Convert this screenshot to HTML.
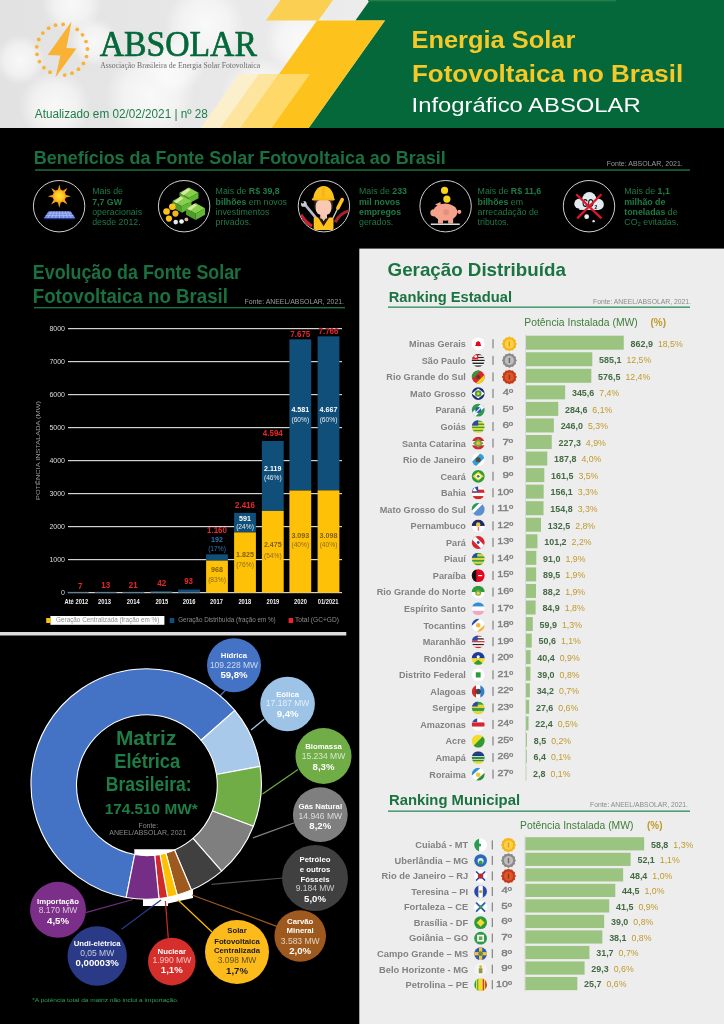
<!DOCTYPE html>
<html lang="pt-BR"><head><meta charset="utf-8"><title>Energia Solar Fotovoltaica no Brasil - Infográfico ABSOLAR</title>
<style>
html,body{margin:0;padding:0;background:#000;}
body{width:724px;height:1024px;overflow:hidden;font-family:"Liberation Sans",sans-serif;}
svg{display:block}
text{white-space:pre}
</style></head><body>
<svg width="724" height="1024" viewBox="0 0 724 1024">
<rect x="0" y="0" width="724" height="1024" fill="#000"/>
<g id="header">
<defs>
<radialGradient id="bk1"><stop offset="0" stop-color="#fff" stop-opacity=".75"/><stop offset=".6" stop-color="#fff" stop-opacity=".5"/><stop offset="1" stop-color="#fff" stop-opacity="0"/></radialGradient>
<linearGradient id="hbg" x1="0" y1="0" x2="1" y2="0"><stop offset="0" stop-color="#e2e2e2"/><stop offset=".5" stop-color="#ececec"/><stop offset="1" stop-color="#e6e6e6"/></linearGradient>
</defs>
<rect x="0" y="0" width="724" height="128" fill="url(#hbg)"/>
<clipPath id="hc"><rect x="0" y="0" width="724" height="128"/></clipPath><g clip-path="url(#hc)">
<circle cx="72" cy="4" r="30" fill="url(#bk1)"/>
<circle cx="94" cy="42" r="24" fill="url(#bk1)"/>
<circle cx="55" cy="106" r="36" fill="url(#bk1)"/>
<circle cx="150" cy="95" r="45" fill="url(#bk1)"/>
<circle cx="205" cy="25" r="40" fill="url(#bk1)"/>
<circle cx="262" cy="100" r="42" fill="url(#bk1)"/>
<circle cx="175" cy="64" r="30" fill="url(#bk1)"/>
<circle cx="300" cy="40" r="35" fill="url(#bk1)"/>
<circle cx="20" cy="60" r="25" fill="url(#bk1)"/>
</g>
<polygon points="280.5,0 333,0 318.4,20.6 265.9,20.6" fill="#fbd052"/>
<polygon points="370,0 724,0 724,128 308.7,128 385,20.6 355.4,20.6" fill="#04683a"/>
<polygon points="317,20.6 385,20.6 308.7,128 240.7,128" fill="#fdc31c"/>
<polygon points="239,74 258.7,74 220.4,128 200.7,128" fill="#fbf0cb"/>
<polygon points="258.7,74 278.3,74 240.0,128 220.4,128" fill="#fde59f"/>
<polygon points="278.3,74 310,74 271.7,128 240.0,128" fill="#fed869"/>
<circle cx="63.11" cy="24.42" r="1.9" fill="#f9b233"/>
<circle cx="77.21" cy="29.46" r="1.9" fill="#f9b233"/>
<circle cx="82.53" cy="34.84" r="1.9" fill="#f9b233"/>
<circle cx="86.03" cy="41.56" r="1.9" fill="#f9b233"/>
<circle cx="87.39" cy="49.01" r="1.9" fill="#f9b233"/>
<circle cx="86.49" cy="56.53" r="1.9" fill="#f9b233"/>
<circle cx="83.42" cy="63.45" r="1.9" fill="#f9b233"/>
<circle cx="78.45" cy="69.16" r="1.9" fill="#f9b233"/>
<circle cx="72.01" cy="73.14" r="1.9" fill="#f9b233"/>
<circle cx="64.69" cy="75.06" r="1.9" fill="#f9b233"/>
<circle cx="49.99" cy="72.18" r="1.9" fill="#f9b233"/>
<circle cx="43.93" cy="67.65" r="1.9" fill="#f9b233"/>
<circle cx="39.47" cy="61.53" r="1.9" fill="#f9b233"/>
<circle cx="37.01" cy="54.37" r="1.9" fill="#f9b233"/>
<circle cx="36.78" cy="46.80" r="1.9" fill="#f9b233"/>
<circle cx="38.78" cy="39.50" r="1.9" fill="#f9b233"/>
<circle cx="42.85" cy="33.11" r="1.9" fill="#f9b233"/>
<circle cx="48.62" cy="28.21" r="1.9" fill="#f9b233"/>
<circle cx="55.58" cy="25.22" r="1.9" fill="#f9b233"/>
<rect x="368" y="0" width="248" height="1.4" fill="#237e47"/>
<polygon points="71.6,21.6 47.7,55.1 60.4,55.5 55.4,77.6 76.4,48.5 66.4,48.1" fill="#f9b233"/>
<text x="99.63" y="55.80" font-size="36.5" fill="#04683a" font-family='"Liberation Serif",serif' textLength="157.29" lengthAdjust="spacingAndGlyphs" stroke="#04683a" stroke-width=".7">ABSOLAR</text>
<text x="100.16" y="68.20" font-size="7.4" fill="#6d6d6d" font-family='"Liberation Serif",serif' textLength="159.92" lengthAdjust="spacingAndGlyphs">Associação Brasileira de Energia Solar Fotovoltaica</text>
<text x="34.80" y="118.10" font-size="12" fill="#1f7d48" font-family='"Liberation Sans",sans-serif' textLength="173.09" lengthAdjust="spacingAndGlyphs">Atualizado em 02/02/2021 | nº 28</text>
<text x="411.45" y="48.00" font-size="24.3" fill="#f7c928" font-weight="bold" font-family='"Liberation Sans",sans-serif' textLength="163.96" lengthAdjust="spacingAndGlyphs">Energia Solar</text>
<text x="412.01" y="82.40" font-size="24.3" fill="#f7c928" font-weight="bold" font-family='"Liberation Sans",sans-serif' textLength="271.21" lengthAdjust="spacingAndGlyphs">Fotovoltaica no Brasil</text>
<text x="411.56" y="112.00" font-size="19.8" fill="#ffffff" font-family='"Liberation Sans",sans-serif' textLength="229.13" lengthAdjust="spacingAndGlyphs">Infográfico ABSOLAR</text>
</g>
<g id="benefits">
<text x="33.83" y="164.10" font-size="19" fill="#1b7040" font-weight="bold" font-family='"Liberation Sans",sans-serif' textLength="411.83" lengthAdjust="spacingAndGlyphs">Benefícios da Fonte Solar Fotovoltaica ao Brasil</text>
<rect x="35" y="169.3" width="655" height="1.5" fill="#1b7040"/>
<text x="606.80" y="165.80" font-size="6.5" fill="#9a9a9a" font-family='"Liberation Sans",sans-serif' textLength="76.00" lengthAdjust="spacingAndGlyphs">Fonte: ABSOLAR, 2021.</text>
<text x="92.20" y="194.10" font-size="8.8" fill="#1f7a45" font-family='"Liberation Sans",sans-serif' textLength="30.81" lengthAdjust="spacingAndGlyphs">Mais de</text>
<text x="92.20" y="204.55" font-size="8.8" fill="#1f7a45" font-weight="bold" font-family='"Liberation Sans",sans-serif' textLength="29.83" lengthAdjust="spacingAndGlyphs">7,7 GW</text>
<text x="92.20" y="215.00" font-size="8.8" fill="#1f7a45" font-family='"Liberation Sans",sans-serif' textLength="49.90" lengthAdjust="spacingAndGlyphs">operacionais</text>
<text x="92.20" y="225.45" font-size="8.8" fill="#1f7a45" font-family='"Liberation Sans",sans-serif' textLength="48.44" lengthAdjust="spacingAndGlyphs">desde 2012.</text>
<text x="215.60" y="194.10" font-size="8.8" fill="#1f7a45" font-family='"Liberation Sans",sans-serif' textLength="30.81" lengthAdjust="spacingAndGlyphs">Mais de</text>
<text x="248.86" y="194.10" font-size="8.8" fill="#1f7a45" font-weight="bold" font-family='"Liberation Sans",sans-serif' textLength="30.82" lengthAdjust="spacingAndGlyphs">R$ 39,8</text>
<text x="215.60" y="204.55" font-size="8.8" fill="#1f7a45" font-weight="bold" font-family='"Liberation Sans",sans-serif' textLength="30.80" lengthAdjust="spacingAndGlyphs">bilhões</text>
<text x="248.85" y="204.55" font-size="8.8" fill="#1f7a45" font-family='"Liberation Sans",sans-serif' textLength="38.15" lengthAdjust="spacingAndGlyphs">em novos</text>
<text x="215.60" y="215.00" font-size="8.8" fill="#1f7a45" font-family='"Liberation Sans",sans-serif' textLength="53.80" lengthAdjust="spacingAndGlyphs">investimentos</text>
<text x="215.60" y="225.45" font-size="8.8" fill="#1f7a45" font-family='"Liberation Sans",sans-serif' textLength="35.71" lengthAdjust="spacingAndGlyphs">privados.</text>
<text x="359.00" y="194.10" font-size="8.8" fill="#1f7a45" font-family='"Liberation Sans",sans-serif' textLength="30.81" lengthAdjust="spacingAndGlyphs">Mais de</text>
<text x="392.26" y="194.10" font-size="8.8" fill="#1f7a45" font-weight="bold" font-family='"Liberation Sans",sans-serif' textLength="14.68" lengthAdjust="spacingAndGlyphs">233</text>
<text x="359.00" y="204.55" font-size="8.8" fill="#1f7a45" font-weight="bold" font-family='"Liberation Sans",sans-serif' textLength="41.07" lengthAdjust="spacingAndGlyphs">mil novos</text>
<text x="359.00" y="215.00" font-size="8.8" fill="#1f7a45" font-weight="bold" font-family='"Liberation Sans",sans-serif' textLength="42.06" lengthAdjust="spacingAndGlyphs">empregos</text>
<text x="359.00" y="225.45" font-size="8.8" fill="#1f7a45" font-family='"Liberation Sans",sans-serif' textLength="34.25" lengthAdjust="spacingAndGlyphs">gerados.</text>
<text x="477.60" y="194.10" font-size="8.8" fill="#1f7a45" font-family='"Liberation Sans",sans-serif' textLength="30.81" lengthAdjust="spacingAndGlyphs">Mais de</text>
<text x="510.86" y="194.10" font-size="8.8" fill="#1f7a45" font-weight="bold" font-family='"Liberation Sans",sans-serif' textLength="30.34" lengthAdjust="spacingAndGlyphs">R$ 11,6</text>
<text x="477.60" y="204.55" font-size="8.8" fill="#1f7a45" font-weight="bold" font-family='"Liberation Sans",sans-serif' textLength="30.80" lengthAdjust="spacingAndGlyphs">bilhões</text>
<text x="510.85" y="204.55" font-size="8.8" fill="#1f7a45" font-family='"Liberation Sans",sans-serif' textLength="12.23" lengthAdjust="spacingAndGlyphs">em</text>
<text x="477.60" y="215.00" font-size="8.8" fill="#1f7a45" font-family='"Liberation Sans",sans-serif' textLength="61.16" lengthAdjust="spacingAndGlyphs">arrecadação de</text>
<text x="477.60" y="225.45" font-size="8.8" fill="#1f7a45" font-family='"Liberation Sans",sans-serif' textLength="31.30" lengthAdjust="spacingAndGlyphs">tributos.</text>
<text x="624.30" y="194.10" font-size="8.8" fill="#1f7a45" font-family='"Liberation Sans",sans-serif' textLength="30.81" lengthAdjust="spacingAndGlyphs">Mais de</text>
<text x="657.56" y="194.10" font-size="8.8" fill="#1f7a45" font-weight="bold" font-family='"Liberation Sans",sans-serif' textLength="12.23" lengthAdjust="spacingAndGlyphs">1,1</text>
<text x="624.30" y="204.55" font-size="8.8" fill="#1f7a45" font-weight="bold" font-family='"Liberation Sans",sans-serif' textLength="41.07" lengthAdjust="spacingAndGlyphs">milhão de</text>
<text x="624.30" y="215.00" font-size="8.8" fill="#1f7a45" font-weight="bold" font-family='"Liberation Sans",sans-serif' textLength="41.08" lengthAdjust="spacingAndGlyphs">toneladas</text>
<text x="667.82" y="215.00" font-size="8.8" fill="#1f7a45" font-family='"Liberation Sans",sans-serif' textLength="9.79" lengthAdjust="spacingAndGlyphs">de</text>
<text x="624.30" y="225.45" font-size="8.8" fill="#1f7a45" font-family='"Liberation Sans",sans-serif' textLength="54.28" lengthAdjust="spacingAndGlyphs">CO₂ evitadas.</text>
<circle cx="59.1" cy="206.2" r="25.7" fill="#000" stroke="#cfcfcf" stroke-width="1"/>
<circle cx="184.1" cy="206.2" r="25.7" fill="#000" stroke="#cfcfcf" stroke-width="1"/>
<circle cx="323.9" cy="206.2" r="25.7" fill="#000" stroke="#cfcfcf" stroke-width="1"/>
<circle cx="445.6" cy="206.2" r="25.7" fill="#000" stroke="#cfcfcf" stroke-width="1"/>
<circle cx="589.0" cy="206.2" r="25.7" fill="#000" stroke="#cfcfcf" stroke-width="1"/>
<defs><radialGradient id="sun"><stop offset="0" stop-color="#ffe23a"/><stop offset=".7" stop-color="#fdc21c"/><stop offset="1" stop-color="#f7941d"/></radialGradient></defs>
<polygon points="57.75,190.40 59.30,184.60 60.85,190.40" fill="#f9a11b"/>
<polygon points="62.30,191.00 67.50,188.00 64.50,193.20" fill="#f9a11b"/>
<polygon points="65.10,194.65 70.90,196.20 65.10,197.75" fill="#f9a11b"/>
<polygon points="64.50,199.20 67.50,204.40 62.30,201.40" fill="#f9a11b"/>
<polygon points="60.85,202.00 59.30,207.80 57.75,202.00" fill="#f9a11b"/>
<polygon points="56.30,201.40 51.10,204.40 54.10,199.20" fill="#f9a11b"/>
<polygon points="53.50,197.75 47.70,196.20 53.50,194.65" fill="#f9a11b"/>
<polygon points="54.10,193.20 51.10,188.00 56.30,191.00" fill="#f9a11b"/>
<circle cx="59.3" cy="196.2" r="6.6" fill="url(#sun)"/>
<polygon points="48.7,211.2 70.5,211.2 75.3,218 43.9,218" fill="#6f8ae6"/>
<line x1="51.43" y1="211.2" x2="47.82" y2="218" stroke="#b8c8f5" stroke-width=".7"/>
<line x1="54.15" y1="211.2" x2="51.75" y2="218" stroke="#b8c8f5" stroke-width=".7"/>
<line x1="56.88" y1="211.2" x2="55.67" y2="218" stroke="#b8c8f5" stroke-width=".7"/>
<line x1="59.60" y1="211.2" x2="59.60" y2="218" stroke="#b8c8f5" stroke-width=".7"/>
<line x1="62.33" y1="211.2" x2="63.52" y2="218" stroke="#b8c8f5" stroke-width=".7"/>
<line x1="65.05" y1="211.2" x2="67.45" y2="218" stroke="#b8c8f5" stroke-width=".7"/>
<line x1="67.78" y1="211.2" x2="71.38" y2="218" stroke="#b8c8f5" stroke-width=".7"/>
<line x1="47.26" y1="213.2" x2="71.94" y2="213.2" stroke="#b8c8f5" stroke-width=".6"/>
<line x1="45.68" y1="215.5" x2="73.52" y2="215.5" stroke="#b8c8f5" stroke-width=".6"/>
<polygon points="43.9,218 75.3,218 74.5,219.2 44.7,219.2" fill="#2a3f9a"/>
<polygon points="179.48,192.79 188.98,197.99 188.98,203.49 179.48,198.29" fill="#4f9a2a"/>
<polygon points="198.48,192.79 188.98,197.99 188.98,203.49 198.48,198.29" fill="#63b535"/>
<polygon points="188.98,187.59 198.48,192.79 188.98,197.99 179.48,192.79" fill="#86cf4a"/>
<polygon points="187.55,188.37 190.40,189.93 183.75,195.13 180.90,193.57" fill="#d9e8a6"/>
<polygon points="172.51,201.01 182.01,206.21 182.01,212.71 172.51,207.51" fill="#4f9a2a"/>
<polygon points="191.51,201.01 182.01,206.21 182.01,212.71 191.51,207.51" fill="#63b535"/>
<polygon points="182.01,195.81 191.51,201.01 182.01,206.21 172.51,201.01" fill="#86cf4a"/>
<polygon points="180.59,196.59 183.44,198.15 176.79,203.35 173.94,201.79" fill="#d9e8a6"/>
<polygon points="186.05,208.27 195.55,213.47 195.55,219.97 186.05,214.77" fill="#4f9a2a"/>
<polygon points="205.05,208.27 195.55,213.47 195.55,219.97 205.05,214.77" fill="#63b535"/>
<polygon points="195.55,203.07 205.05,208.27 195.55,213.47 186.05,208.27" fill="#86cf4a"/>
<polygon points="194.13,203.85 196.98,205.41 190.33,210.61 187.48,209.05" fill="#d9e8a6"/>
<circle cx="172.34" cy="206.82" r="3.29" fill="#fdc31c"/>
<circle cx="166.54" cy="211.46" r="3.29" fill="#fdc31c"/>
<circle cx="175.44" cy="213.59" r="3.09" fill="#f9b21a"/>
<circle cx="168.96" cy="218.62" r="3.09" fill="#fdc31c"/>
<circle cx="175.73" cy="222.10" r="2.32" fill="#e8e8e8"/>
<circle cx="181.53" cy="221.52" r="2.32" fill="#f4f4f4"/>
<circle cx="186.37" cy="219.39" r="1.93" fill="#e0b49a"/>
<clipPath id="c3"><circle cx="323.9" cy="206.2" r="25.2"/></clipPath><g clip-path="url(#c3)">
<path d="M300.9,214.6 Q305.2,222.3 312.0,226.2" stroke="#c8202c" stroke-width="3.2" fill="none"/>
<path d="M349.7,210.7 Q340.1,212.6 335.2,222.3" stroke="#a8202c" stroke-width="3.2" fill="none"/>
<line x1="304.8" y1="204.4" x2="316.4" y2="218.4" stroke="#b9bcc4" stroke-width="2.6" stroke-linecap="round"/>
<circle cx="303.8" cy="203.9" r="2.9" fill="#c9ccd3"/><circle cx="302.6" cy="202.3" r="1.3" fill="#000"/>
<line x1="337.9" y1="208.0" x2="333.1" y2="217.9" stroke="#c9ccd3" stroke-width="1.3"/>
<line x1="342.2" y1="199.6" x2="337.9" y2="208.0" stroke="#fdc31c" stroke-width="3.6" stroke-linecap="round"/>
<polygon points="313.75,217.45 333.48,217.45 333.48,230.03 313.75,230.03" fill="#fdc31c"/>
<polygon points="317.82,216.97 329.42,216.97 323.62,226.16" fill="#2a1a16"/>
<polygon points="320.91,216.97 326.33,216.97 323.62,221.32" fill="#f6c7b4"/>
<polygon points="320.23,213.59 327.00,213.59 327.00,218.42 320.23,218.42" fill="#f6c7b4"/>
<polygon points="314.43,200.05 332.81,200.05 332.81,208.75 314.43,208.75" fill="#3a2420"/>
<rect x="315.7" y="199.6" width="15.7" height="15.5" rx="6" fill="#f9c9b6"/>
<path d="M313.2,199.6 A10.4,13.5 0 0 1 334.1,199.6 Z" fill="#fdc31c"/>
<rect x="312.0" y="197.9" width="22.7" height="2.6" rx="1.3" fill="#f7b818"/>
<rect x="321.7" y="186.5" width="3" height="11" rx="1.2" fill="#f9b21a"/>
</g>
<circle cx="444.56" cy="190.38" r="3.6" fill="#f7d417"/>
<circle cx="446.88" cy="199.08" r="3.6" fill="#f7d417"/>
<ellipse cx="445.23" cy="212.14" rx="12" ry="8.6" fill="#f4a28c"/>
<circle cx="433.92" cy="212.81" r="3.6" fill="#f4a28c"/>
<polygon points="435.08,204.40 440.40,201.98 441.37,207.78" fill="#f4a28c"/>
<circle cx="459.26" cy="211.85" r="2.1" fill="#f4a28c"/>
<rect x="437.98" y="217.45" width="5" height="6" fill="#f4a28c"/>
<rect x="448.14" y="217.45" width="5" height="6" fill="#f4a28c"/>
<circle cx="446.20" cy="212.14" r="3" fill="#e58f80"/>
<rect x="430.73" y="223.55" width="29" height="1.3" fill="#fff"/>
<circle cx="579.31" cy="203.72" r="5.03" fill="#e3ebf1"/>
<circle cx="589.27" cy="199.08" r="6.96" fill="#e3ebf1"/>
<circle cx="598.26" cy="204.40" r="5.61" fill="#e3ebf1"/>
<rect x="579.31" y="203.91" width="18.96" height="6.00" fill="#e3ebf1"/>
<circle cx="586.66" cy="216.68" r="2.4" fill="#e3ebf1"/>
<circle cx="593.62" cy="221.13" r="1.2" fill="#e3ebf1"/>
<text x="582.18" y="207.01" font-size="10" fill="#111" font-weight="bold" font-family='"Liberation Sans",sans-serif' textLength="11.70" lengthAdjust="spacingAndGlyphs">CO</text>
<text x="594.43" y="208.61" font-size="5.6" fill="#111" font-weight="bold" font-family='"Liberation Sans",sans-serif' textLength="2.80" lengthAdjust="spacingAndGlyphs">2</text>
<line x1="576.2" y1="194.2" x2="601.4" y2="218.4" stroke="#e0162b" stroke-width="2.2"/>
<line x1="601.4" y1="194.2" x2="577.2" y2="218.4" stroke="#e0162b" stroke-width="2.2"/>
</g>
<g id="evolucao">
<text x="32.84" y="279.00" font-size="19.5" fill="#1b7040" font-weight="bold" font-family='"Liberation Sans",sans-serif' textLength="208.21" lengthAdjust="spacingAndGlyphs">Evolução da Fonte Solar</text>
<text x="32.79" y="302.60" font-size="19.5" fill="#1b7040" font-weight="bold" font-family='"Liberation Sans",sans-serif' textLength="195.16" lengthAdjust="spacingAndGlyphs">Fotovoltaica no Brasil</text>
<rect x="34" y="307" width="311" height="1.4" fill="#1b7040"/>
<text x="244.50" y="304.20" font-size="6.5" fill="#9a9a9a" font-family='"Liberation Sans",sans-serif' textLength="99.50" lengthAdjust="spacingAndGlyphs">Fonte: ANEEL/ABSOLAR, 2021.</text>
<rect x="68" y="592.00" width="274" height="1.2" fill="#d2d2d2"/>
<text x="61.10" y="595.00" font-size="6.8" fill="#dcdcdc" font-family='"Liberation Sans",sans-serif' textLength="3.90" lengthAdjust="spacingAndGlyphs">0</text>
<rect x="68" y="559.00" width="274" height="1.2" fill="#d2d2d2"/>
<text x="49.42" y="562.00" font-size="6.8" fill="#dcdcdc" font-family='"Liberation Sans",sans-serif' textLength="15.58" lengthAdjust="spacingAndGlyphs">1000</text>
<rect x="68" y="526.00" width="274" height="1.2" fill="#d2d2d2"/>
<text x="49.42" y="529.00" font-size="6.8" fill="#dcdcdc" font-family='"Liberation Sans",sans-serif' textLength="15.58" lengthAdjust="spacingAndGlyphs">2000</text>
<rect x="68" y="493.00" width="274" height="1.2" fill="#d2d2d2"/>
<text x="49.42" y="496.00" font-size="6.8" fill="#dcdcdc" font-family='"Liberation Sans",sans-serif' textLength="15.58" lengthAdjust="spacingAndGlyphs">3000</text>
<rect x="68" y="460.00" width="274" height="1.2" fill="#d2d2d2"/>
<text x="49.42" y="463.00" font-size="6.8" fill="#dcdcdc" font-family='"Liberation Sans",sans-serif' textLength="15.58" lengthAdjust="spacingAndGlyphs">4000</text>
<rect x="68" y="427.00" width="274" height="1.2" fill="#d2d2d2"/>
<text x="49.42" y="430.00" font-size="6.8" fill="#dcdcdc" font-family='"Liberation Sans",sans-serif' textLength="15.58" lengthAdjust="spacingAndGlyphs">5000</text>
<rect x="68" y="394.00" width="274" height="1.2" fill="#d2d2d2"/>
<text x="49.42" y="397.00" font-size="6.8" fill="#dcdcdc" font-family='"Liberation Sans",sans-serif' textLength="15.58" lengthAdjust="spacingAndGlyphs">6000</text>
<rect x="68" y="361.00" width="274" height="1.2" fill="#d2d2d2"/>
<text x="49.42" y="364.00" font-size="6.8" fill="#dcdcdc" font-family='"Liberation Sans",sans-serif' textLength="15.58" lengthAdjust="spacingAndGlyphs">7000</text>
<rect x="68" y="328.00" width="274" height="1.2" fill="#d2d2d2"/>
<text x="49.42" y="331.00" font-size="6.8" fill="#dcdcdc" font-family='"Liberation Sans",sans-serif' textLength="15.58" lengthAdjust="spacingAndGlyphs">8000</text>
<text transform="translate(40.2,500) rotate(-90)" font-size="6" fill="#9a9a9a" font-family='"Liberation Sans",sans-serif' textLength="99" lengthAdjust="spacingAndGlyphs">POTÊNCIA INSTALADA (MW)</text>
<rect x="66.80" y="591.80" width="21.8" height="0.80" fill="#0f4f7a"/>
<text x="64.55" y="604.00" font-size="6.4" fill="#f0f0f0" font-weight="bold" font-family='"Liberation Sans",sans-serif' textLength="23.70" lengthAdjust="spacingAndGlyphs">Até 2012</text>
<rect x="94.70" y="591.80" width="21.8" height="0.80" fill="#0f4f7a"/>
<text x="98.09" y="604.00" font-size="6.4" fill="#f0f0f0" font-weight="bold" font-family='"Liberation Sans",sans-serif' textLength="12.81" lengthAdjust="spacingAndGlyphs">2013</text>
<rect x="122.50" y="591.80" width="21.8" height="0.80" fill="#0f4f7a"/>
<text x="126.79" y="604.00" font-size="6.4" fill="#f0f0f0" font-weight="bold" font-family='"Liberation Sans",sans-serif' textLength="12.81" lengthAdjust="spacingAndGlyphs">2014</text>
<rect x="150.40" y="591.21" width="21.8" height="1.39" fill="#0f4f7a"/>
<text x="155.39" y="604.00" font-size="6.4" fill="#f0f0f0" font-weight="bold" font-family='"Liberation Sans",sans-serif' textLength="12.81" lengthAdjust="spacingAndGlyphs">2015</text>
<rect x="178.20" y="589.53" width="21.8" height="3.07" fill="#0f4f7a"/>
<text x="182.69" y="604.00" font-size="6.4" fill="#f0f0f0" font-weight="bold" font-family='"Liberation Sans",sans-serif' textLength="12.81" lengthAdjust="spacingAndGlyphs">2016</text>
<rect x="206.10" y="554.32" width="21.8" height="6.34" fill="#0f4f7a"/>
<rect x="206.10" y="560.66" width="21.8" height="31.94" fill="#ffc107"/>
<text x="210.09" y="604.00" font-size="6.4" fill="#f0f0f0" font-weight="bold" font-family='"Liberation Sans",sans-serif' textLength="12.81" lengthAdjust="spacingAndGlyphs">2017</text>
<rect x="234.10" y="512.87" width="21.8" height="19.50" fill="#0f4f7a"/>
<rect x="234.10" y="532.38" width="21.8" height="60.23" fill="#ffc107"/>
<text x="238.39" y="604.00" font-size="6.4" fill="#f0f0f0" font-weight="bold" font-family='"Liberation Sans",sans-serif' textLength="12.81" lengthAdjust="spacingAndGlyphs">2018</text>
<rect x="261.90" y="441.00" width="21.8" height="69.93" fill="#0f4f7a"/>
<rect x="261.90" y="510.93" width="21.8" height="81.67" fill="#ffc107"/>
<text x="266.49" y="604.00" font-size="6.4" fill="#f0f0f0" font-weight="bold" font-family='"Liberation Sans",sans-serif' textLength="12.81" lengthAdjust="spacingAndGlyphs">2019</text>
<rect x="289.40" y="339.33" width="21.8" height="151.21" fill="#0f4f7a"/>
<rect x="289.40" y="490.53" width="21.8" height="102.07" fill="#ffc107"/>
<text x="294.09" y="604.00" font-size="6.4" fill="#f0f0f0" font-weight="bold" font-family='"Liberation Sans",sans-serif' textLength="12.81" lengthAdjust="spacingAndGlyphs">2020</text>
<rect x="317.60" y="336.32" width="21.8" height="154.04" fill="#0f4f7a"/>
<rect x="317.60" y="490.37" width="21.8" height="102.23" fill="#ffc107"/>
<text x="317.69" y="604.00" font-size="6.4" fill="#f0f0f0" font-weight="bold" font-family='"Liberation Sans",sans-serif' textLength="20.82" lengthAdjust="spacingAndGlyphs">01/2021</text>
<text x="77.98" y="588.60" font-size="8.3" fill="#e8262b" font-weight="bold" font-family='"Liberation Sans",sans-serif' textLength="4.43" lengthAdjust="spacingAndGlyphs">7</text>
<text x="101.37" y="588.00" font-size="8.3" fill="#e8262b" font-weight="bold" font-family='"Liberation Sans",sans-serif' textLength="8.86" lengthAdjust="spacingAndGlyphs">13</text>
<text x="128.77" y="588.00" font-size="8.3" fill="#e8262b" font-weight="bold" font-family='"Liberation Sans",sans-serif' textLength="8.86" lengthAdjust="spacingAndGlyphs">21</text>
<text x="157.37" y="586.40" font-size="8.3" fill="#e8262b" font-weight="bold" font-family='"Liberation Sans",sans-serif' textLength="8.86" lengthAdjust="spacingAndGlyphs">42</text>
<text x="184.17" y="584.00" font-size="8.3" fill="#e8262b" font-weight="bold" font-family='"Liberation Sans",sans-serif' textLength="8.86" lengthAdjust="spacingAndGlyphs">93</text>
<text x="207.03" y="533.00" font-size="8.3" fill="#e8262b" font-weight="bold" font-family='"Liberation Sans",sans-serif' textLength="19.94" lengthAdjust="spacingAndGlyphs">1.160</text>
<text x="235.03" y="508.20" font-size="8.3" fill="#e8262b" font-weight="bold" font-family='"Liberation Sans",sans-serif' textLength="19.94" lengthAdjust="spacingAndGlyphs">2.416</text>
<text x="262.83" y="436.40" font-size="8.3" fill="#e8262b" font-weight="bold" font-family='"Liberation Sans",sans-serif' textLength="19.94" lengthAdjust="spacingAndGlyphs">4.594</text>
<text x="290.33" y="336.50" font-size="8.3" fill="#e8262b" font-weight="bold" font-family='"Liberation Sans",sans-serif' textLength="19.94" lengthAdjust="spacingAndGlyphs">7.675</text>
<text x="318.53" y="333.90" font-size="8.3" fill="#e8262b" font-weight="bold" font-family='"Liberation Sans",sans-serif' textLength="19.94" lengthAdjust="spacingAndGlyphs">7.766</text>
<text x="211.07" y="542.20" font-size="7.4" fill="#2e75b6" font-weight="bold" font-family='"Liberation Sans",sans-serif' textLength="11.85" lengthAdjust="spacingAndGlyphs">192</text>
<text x="208.13" y="551.00" font-size="7" fill="#2e75b6" font-family='"Liberation Sans",sans-serif' textLength="17.74" lengthAdjust="spacingAndGlyphs">(17%)</text>
<text x="239.07" y="520.80" font-size="7.4" fill="#ffffff" font-weight="bold" font-family='"Liberation Sans",sans-serif' textLength="11.85" lengthAdjust="spacingAndGlyphs">591</text>
<text x="236.13" y="529.00" font-size="7" fill="#e8e8e8" font-family='"Liberation Sans",sans-serif' textLength="17.74" lengthAdjust="spacingAndGlyphs">(24%)</text>
<text x="264.11" y="471.00" font-size="7.4" fill="#ffffff" font-weight="bold" font-family='"Liberation Sans",sans-serif' textLength="17.39" lengthAdjust="spacingAndGlyphs">2.119</text>
<text x="263.93" y="479.60" font-size="7" fill="#e8e8e8" font-family='"Liberation Sans",sans-serif' textLength="17.74" lengthAdjust="spacingAndGlyphs">(46%)</text>
<text x="291.41" y="412.00" font-size="7.4" fill="#ffffff" font-weight="bold" font-family='"Liberation Sans",sans-serif' textLength="17.78" lengthAdjust="spacingAndGlyphs">4.581</text>
<text x="291.43" y="422.30" font-size="7" fill="#e8e8e8" font-family='"Liberation Sans",sans-serif' textLength="17.74" lengthAdjust="spacingAndGlyphs">(60%)</text>
<text x="319.61" y="412.00" font-size="7.4" fill="#ffffff" font-weight="bold" font-family='"Liberation Sans",sans-serif' textLength="17.78" lengthAdjust="spacingAndGlyphs">4.667</text>
<text x="319.63" y="422.30" font-size="7" fill="#e8e8e8" font-family='"Liberation Sans",sans-serif' textLength="17.74" lengthAdjust="spacingAndGlyphs">(60%)</text>
<text x="211.07" y="571.60" font-size="7.4" fill="#7f6000" font-weight="bold" font-family='"Liberation Sans",sans-serif' textLength="11.85" lengthAdjust="spacingAndGlyphs">968</text>
<text x="208.13" y="582.00" font-size="7" fill="#8a6d1a" font-family='"Liberation Sans",sans-serif' textLength="17.74" lengthAdjust="spacingAndGlyphs">(83%)</text>
<text x="236.11" y="557.20" font-size="7.4" fill="#7f6000" font-weight="bold" font-family='"Liberation Sans",sans-serif' textLength="17.78" lengthAdjust="spacingAndGlyphs">1.825</text>
<text x="236.13" y="567.20" font-size="7" fill="#8a6d1a" font-family='"Liberation Sans",sans-serif' textLength="17.74" lengthAdjust="spacingAndGlyphs">(76%)</text>
<text x="263.91" y="547.30" font-size="7.4" fill="#7f6000" font-weight="bold" font-family='"Liberation Sans",sans-serif' textLength="17.78" lengthAdjust="spacingAndGlyphs">2.475</text>
<text x="263.93" y="558.30" font-size="7" fill="#8a6d1a" font-family='"Liberation Sans",sans-serif' textLength="17.74" lengthAdjust="spacingAndGlyphs">(54%)</text>
<text x="291.41" y="537.80" font-size="7.4" fill="#7f6000" font-weight="bold" font-family='"Liberation Sans",sans-serif' textLength="17.78" lengthAdjust="spacingAndGlyphs">3.093</text>
<text x="291.43" y="547.30" font-size="7" fill="#8a6d1a" font-family='"Liberation Sans",sans-serif' textLength="17.74" lengthAdjust="spacingAndGlyphs">(40%)</text>
<text x="319.61" y="537.80" font-size="7.4" fill="#7f6000" font-weight="bold" font-family='"Liberation Sans",sans-serif' textLength="17.78" lengthAdjust="spacingAndGlyphs">3.098</text>
<text x="319.63" y="547.30" font-size="7" fill="#8a6d1a" font-family='"Liberation Sans",sans-serif' textLength="17.74" lengthAdjust="spacingAndGlyphs">(40%)</text>
<rect x="50.4" y="616" width="114" height="8.8" fill="#fff"/>
<rect x="46.2" y="618" width="4.6" height="5" fill="#fdc010"/>
<text x="56.10" y="622.30" font-size="6.6" fill="#8c8c8c" font-family='"Liberation Sans",sans-serif' textLength="103.20" lengthAdjust="spacingAndGlyphs">Geração Centralizada (fração em %)</text>
<rect x="169.7" y="618" width="4.6" height="5" fill="#0f4f7a"/>
<text x="178.20" y="622.30" font-size="6.6" fill="#8c8c8c" font-family='"Liberation Sans",sans-serif' textLength="97.50" lengthAdjust="spacingAndGlyphs">Geração Distribuída (fração em %)</text>
<rect x="288.6" y="618" width="4.6" height="5" fill="#e8262b"/>
<text x="295.00" y="622.30" font-size="6.6" fill="#8c8c8c" font-family='"Liberation Sans",sans-serif' textLength="44.00" lengthAdjust="spacingAndGlyphs">Total (GC+GD)</text>
<rect x="0" y="632" width="346.3" height="3.5" fill="#dcdcdc"/>
</g>
<g id="matriz">
<polygon points="134.30,849.20 174.70,849.20 174.70,854.00 134.30,857.00" fill="#fff"/>
<polygon points="143.00,897.00 143.00,906.00 168.00,906.00 168.00,903.50 193.00,898.00 193.00,889.00 170.00,896.00" fill="#fff"/>
<line x1="226.5" y1="689" x2="219" y2="697" stroke="#4472c4" stroke-width="1.2"/>
<line x1="264.2" y1="719.2" x2="251.1" y2="730" stroke="#a9c9eb" stroke-width="1.2"/>
<line x1="298" y1="769.5" x2="262.5" y2="794" stroke="#70ad47" stroke-width="1.2"/>
<line x1="294.4" y1="822.8" x2="252.9" y2="837.9" stroke="#7f7f7f" stroke-width="1.2"/>
<line x1="283" y1="878" x2="211.4" y2="884.4" stroke="#505050" stroke-width="1.2"/>
<line x1="276.8" y1="926.4" x2="192" y2="895" stroke="#9e5a1e" stroke-width="1.2"/>
<line x1="212" y1="932" x2="178" y2="900" stroke="#ffc000" stroke-width="1.2"/>
<line x1="168.4" y1="940" x2="165.4" y2="901" stroke="#cf2a2a" stroke-width="1.2"/>
<line x1="121.5" y1="929.2" x2="161" y2="900" stroke="#2a3a86" stroke-width="1.2"/>
<line x1="85.6" y1="912.6" x2="133" y2="899.5" stroke="#762d86" stroke-width="1.2"/>
<path d="M126.20,897.45 A115.2,115.2 0 1 1 234.83,710.41 L201.07,740.23 A70.4,70.4 0 1 0 134.68,854.53 Z" fill="#4472c4" stroke="#fff" stroke-width="1.1" stroke-linejoin="round"/>
<path d="M234.83,710.41 A115.2,115.2 0 0 1 260.04,766.38 L216.47,774.43 A70.4,70.4 0 0 0 201.07,740.23 Z" fill="#a9c9eb" stroke="#fff" stroke-width="1.1" stroke-linejoin="round"/>
<path d="M260.04,766.38 A115.2,115.2 0 0 1 253.38,826.22 L212.40,811.00 A70.4,70.4 0 0 0 216.47,774.43 Z" fill="#70ad47" stroke="#fff" stroke-width="1.1" stroke-linejoin="round"/>
<path d="M253.38,826.22 A115.2,115.2 0 0 1 221.63,871.07 L192.99,838.41 A70.4,70.4 0 0 0 212.40,811.00 Z" fill="#7f7f7f" stroke="#fff" stroke-width="1.1" stroke-linejoin="round"/>
<path d="M221.63,871.07 A115.2,115.2 0 0 1 191.40,889.96 L174.52,849.96 A70.4,70.4 0 0 0 192.99,838.41 Z" fill="#404040" stroke="#fff" stroke-width="1.1" stroke-linejoin="round"/>
<path d="M191.40,889.96 A115.2,115.2 0 0 1 177.18,894.96 L165.83,853.01 A70.4,70.4 0 0 0 174.52,849.96 Z" fill="#9e5a1e" stroke="#fff" stroke-width="1.1" stroke-linejoin="round"/>
<path d="M177.18,894.96 A115.2,115.2 0 0 1 167.59,897.20 L159.97,854.38 A70.4,70.4 0 0 0 165.83,853.01 Z" fill="#ffc000" stroke="#fff" stroke-width="1.1" stroke-linejoin="round"/>
<path d="M167.59,897.20 A115.2,115.2 0 0 1 158.94,898.49 L154.69,855.17 A70.4,70.4 0 0 0 159.97,854.38 Z" fill="#cf2a2a" stroke="#fff" stroke-width="1.1" stroke-linejoin="round"/>
<path d="M158.94,898.49 A115.2,115.2 0 0 1 126.20,897.45 L134.68,854.53 A70.4,70.4 0 0 0 154.69,855.17 Z" fill="#762d86" stroke="#fff" stroke-width="1.1" stroke-linejoin="round"/>
<text x="115.94" y="744.80" font-size="19.3" fill="#1d7d45" font-weight="bold" font-family='"Liberation Sans",sans-serif' textLength="60.48" lengthAdjust="spacingAndGlyphs">Matriz</text>
<text x="114.32" y="768.00" font-size="19.3" fill="#1d7d45" font-weight="bold" font-family='"Liberation Sans",sans-serif' textLength="65.76" lengthAdjust="spacingAndGlyphs">Elétrica</text>
<text x="105.76" y="791.30" font-size="19.3" fill="#1d7d45" font-weight="bold" font-family='"Liberation Sans",sans-serif' textLength="85.85" lengthAdjust="spacingAndGlyphs">Brasileira:</text>
<text x="104.68" y="813.70" font-size="14.5" fill="#1d7d45" font-weight="bold" font-family='"Liberation Sans",sans-serif' textLength="93.00" lengthAdjust="spacingAndGlyphs">174.510 MW*</text>
<text x="138.45" y="828.10" font-size="6.8" fill="#8a8a8a" font-family='"Liberation Sans",sans-serif' textLength="19.70" lengthAdjust="spacingAndGlyphs">Fonte:</text>
<text x="109.30" y="834.90" font-size="6.8" fill="#8a8a8a" font-family='"Liberation Sans",sans-serif' textLength="77.00" lengthAdjust="spacingAndGlyphs">ANEEL/ABSOLAR, 2021</text>
<circle cx="234" cy="665.2" r="27" fill="#4472c4"/>
<text x="220.85" y="657.60" font-size="8.0" fill="#fff" font-weight="bold" font-family='"Liberation Sans",sans-serif' textLength="26.31" lengthAdjust="spacingAndGlyphs">Hídrica</text>
<g opacity=".72">
<text x="209.90" y="667.70" font-size="8.5" fill="#fff" font-family='"Liberation Sans",sans-serif' textLength="48.19" lengthAdjust="spacingAndGlyphs">109.228 MW</text>
</g>
<text x="220.39" y="678.20" font-size="9.6" fill="#fff" font-weight="bold" font-family='"Liberation Sans",sans-serif' textLength="27.22" lengthAdjust="spacingAndGlyphs">59,8%</text>
<circle cx="287.6" cy="704" r="27.3" fill="#9dc3e6"/>
<text x="276.17" y="696.60" font-size="8.0" fill="#fff" font-weight="bold" font-family='"Liberation Sans",sans-serif' textLength="22.86" lengthAdjust="spacingAndGlyphs">Eólica</text>
<g opacity=".72">
<text x="265.87" y="706.10" font-size="8.5" fill="#fff" font-family='"Liberation Sans",sans-serif' textLength="43.46" lengthAdjust="spacingAndGlyphs">17.187 MW</text>
</g>
<text x="276.66" y="716.70" font-size="9.6" fill="#fff" font-weight="bold" font-family='"Liberation Sans",sans-serif' textLength="21.88" lengthAdjust="spacingAndGlyphs">9,4%</text>
<circle cx="323.5" cy="756" r="28" fill="#70ad47"/>
<text x="305.17" y="748.60" font-size="8.0" fill="#fff" font-weight="bold" font-family='"Liberation Sans",sans-serif' textLength="36.66" lengthAdjust="spacingAndGlyphs">Biomassa</text>
<g opacity=".72">
<text x="301.77" y="758.90" font-size="8.5" fill="#fff" font-family='"Liberation Sans",sans-serif' textLength="43.46" lengthAdjust="spacingAndGlyphs">15.234 MW</text>
</g>
<text x="312.56" y="769.50" font-size="9.6" fill="#fff" font-weight="bold" font-family='"Liberation Sans",sans-serif' textLength="21.88" lengthAdjust="spacingAndGlyphs">8,3%</text>
<circle cx="320.3" cy="814.7" r="27.4" fill="#7f7f7f"/>
<text x="298.52" y="809.00" font-size="8.0" fill="#fff" font-weight="bold" font-family='"Liberation Sans",sans-serif' textLength="43.56" lengthAdjust="spacingAndGlyphs">Gás Natural</text>
<g opacity=".72">
<text x="298.57" y="819.00" font-size="8.5" fill="#fff" font-family='"Liberation Sans",sans-serif' textLength="43.46" lengthAdjust="spacingAndGlyphs">14.946 MW</text>
</g>
<text x="309.36" y="829.00" font-size="9.6" fill="#fff" font-weight="bold" font-family='"Liberation Sans",sans-serif' textLength="21.88" lengthAdjust="spacingAndGlyphs">8,2%</text>
<circle cx="315" cy="878" r="33" fill="#404040"/>
<text x="299.48" y="861.80" font-size="8.0" fill="#fff" font-weight="bold" font-family='"Liberation Sans",sans-serif' textLength="31.05" lengthAdjust="spacingAndGlyphs">Petróleo</text>
<text x="299.69" y="871.80" font-size="8.0" fill="#fff" font-weight="bold" font-family='"Liberation Sans",sans-serif' textLength="30.61" lengthAdjust="spacingAndGlyphs">e outros</text>
<text x="300.55" y="881.90" font-size="8.0" fill="#fff" font-weight="bold" font-family='"Liberation Sans",sans-serif' textLength="28.90" lengthAdjust="spacingAndGlyphs">Fósseis</text>
<g opacity=".72">
<text x="295.63" y="891.40" font-size="8.5" fill="#fff" font-family='"Liberation Sans",sans-serif' textLength="38.74" lengthAdjust="spacingAndGlyphs">9.184 MW</text>
</g>
<text x="304.06" y="902.00" font-size="9.6" fill="#fff" font-weight="bold" font-family='"Liberation Sans",sans-serif' textLength="21.88" lengthAdjust="spacingAndGlyphs">5,0%</text>
<circle cx="300.2" cy="936" r="25.8" fill="#9e5a1e"/>
<text x="287.04" y="923.80" font-size="8.0" fill="#fff" font-weight="bold" font-family='"Liberation Sans",sans-serif' textLength="26.31" lengthAdjust="spacingAndGlyphs">Carvão</text>
<text x="286.62" y="933.40" font-size="8.0" fill="#fff" font-weight="bold" font-family='"Liberation Sans",sans-serif' textLength="27.17" lengthAdjust="spacingAndGlyphs">Mineral</text>
<g opacity=".72">
<text x="280.83" y="943.50" font-size="8.5" fill="#fff" font-family='"Liberation Sans",sans-serif' textLength="38.74" lengthAdjust="spacingAndGlyphs">3.583 MW</text>
</g>
<text x="289.26" y="954.00" font-size="9.6" fill="#fff" font-weight="bold" font-family='"Liberation Sans",sans-serif' textLength="21.88" lengthAdjust="spacingAndGlyphs">2,0%</text>
<circle cx="237" cy="952" r="32" fill="#fcbb1a"/>
<text x="227.30" y="933.40" font-size="8.0" fill="#1a1a1a" font-weight="bold" font-family='"Liberation Sans",sans-serif' textLength="19.41" lengthAdjust="spacingAndGlyphs">Solar</text>
<text x="214.15" y="943.50" font-size="8.0" fill="#1a1a1a" font-weight="bold" font-family='"Liberation Sans",sans-serif' textLength="45.71" lengthAdjust="spacingAndGlyphs">Fotovoltaica</text>
<text x="213.93" y="953.00" font-size="8.0" fill="#1a1a1a" font-weight="bold" font-family='"Liberation Sans",sans-serif' textLength="46.14" lengthAdjust="spacingAndGlyphs">Centralizada</text>
<g opacity=".72">
<text x="217.63" y="963.00" font-size="8.5" fill="#1a1a1a" font-family='"Liberation Sans",sans-serif' textLength="38.74" lengthAdjust="spacingAndGlyphs">3.098 MW</text>
</g>
<text x="226.06" y="973.60" font-size="9.6" fill="#1a1a1a" font-weight="bold" font-family='"Liberation Sans",sans-serif' textLength="21.88" lengthAdjust="spacingAndGlyphs">1,7%</text>
<circle cx="171.8" cy="961.6" r="23.8" fill="#d42f2b"/>
<text x="157.57" y="953.50" font-size="8.0" fill="#fff" font-weight="bold" font-family='"Liberation Sans",sans-serif' textLength="28.47" lengthAdjust="spacingAndGlyphs">Nuclear</text>
<g opacity=".72">
<text x="152.43" y="962.60" font-size="8.5" fill="#fff" font-family='"Liberation Sans",sans-serif' textLength="38.74" lengthAdjust="spacingAndGlyphs">1.990 MW</text>
</g>
<text x="160.86" y="973.00" font-size="9.6" fill="#fff" font-weight="bold" font-family='"Liberation Sans",sans-serif' textLength="21.88" lengthAdjust="spacingAndGlyphs">1,1%</text>
<circle cx="97.2" cy="956" r="29.7" fill="#2a3a86"/>
<text x="73.70" y="946.30" font-size="8.0" fill="#fff" font-weight="bold" font-family='"Liberation Sans",sans-serif' textLength="47.00" lengthAdjust="spacingAndGlyphs">Undi-elétrica</text>
<g opacity=".72">
<text x="80.20" y="956.00" font-size="8.5" fill="#fff" font-family='"Liberation Sans",sans-serif' textLength="34.01" lengthAdjust="spacingAndGlyphs">0,05 MW</text>
</g>
<text x="75.58" y="966.20" font-size="9.6" fill="#fff" font-weight="bold" font-family='"Liberation Sans",sans-serif' textLength="43.24" lengthAdjust="spacingAndGlyphs">0,00003%</text>
<circle cx="58" cy="909.8" r="28" fill="#7b2f88"/>
<text x="37.09" y="903.50" font-size="8.0" fill="#fff" font-weight="bold" font-family='"Liberation Sans",sans-serif' textLength="41.83" lengthAdjust="spacingAndGlyphs">Importação</text>
<g opacity=".72">
<text x="38.63" y="913.10" font-size="8.5" fill="#fff" font-family='"Liberation Sans",sans-serif' textLength="38.74" lengthAdjust="spacingAndGlyphs">8.170 MW</text>
</g>
<text x="47.06" y="924.20" font-size="9.6" fill="#fff" font-weight="bold" font-family='"Liberation Sans",sans-serif' textLength="21.88" lengthAdjust="spacingAndGlyphs">4,5%</text>
<text x="32.30" y="1001.90" font-size="6" fill="#2da356" font-family='"Liberation Sans",sans-serif' textLength="146.30" lengthAdjust="spacingAndGlyphs">*A potência total da matriz não inclui a importação.</text>
</g>
<g id="geracao">
<rect x="359.3" y="248.6" width="365" height="776" fill="#ededed"/>
<text x="387.55" y="276.00" font-size="18.2" fill="#1a7340" font-weight="bold" font-family='"Liberation Sans",sans-serif' textLength="178.32" lengthAdjust="spacingAndGlyphs">Geração Distribuída</text>
<text x="388.75" y="301.70" font-size="14.6" fill="#1a7340" font-weight="bold" font-family='"Liberation Sans",sans-serif' textLength="123.22" lengthAdjust="spacingAndGlyphs">Ranking Estadual</text>
<rect x="388" y="306.5" width="302" height="1.3" fill="#2a8a5a"/>
<text x="593.00" y="303.60" font-size="6.5" fill="#8a8a8a" font-family='"Liberation Sans",sans-serif' textLength="98.00" lengthAdjust="spacingAndGlyphs">Fonte: ANEEL/ABSOLAR, 2021.</text>
<text x="524.30" y="325.60" font-size="10.6" fill="#3f7d3a" font-family='"Liberation Sans",sans-serif' textLength="113.50" lengthAdjust="spacingAndGlyphs">Potência Instalada (MW)</text>
<text x="650.50" y="325.60" font-size="10.6" fill="#c09a2b" font-weight="bold" font-family='"Liberation Sans",sans-serif' textLength="15.50" lengthAdjust="spacingAndGlyphs">(%)</text>
<rect x="525" y="334.20" width="1" height="447.30" fill="#dadada"/>
<text x="409.10" y="347.20" font-size="8.8" fill="#828282" font-weight="bold" font-family='"Liberation Sans",sans-serif' textLength="56.70" lengthAdjust="spacingAndGlyphs">Minas Gerais</text>
<clipPath id="f1"><circle cx="0" cy="0" r="6.4"/></clipPath><g transform="translate(478.20,343.90)" clip-path="url(#f1)">
<rect x="-7" y="-7" width="14" height="14" fill="#fff"/>
<polygon points="0,-3.2 3.2,2.2 -3.2,2.2" fill="#e3061c"/>
<circle cx="0" cy="0" r="2.4" fill="#e3061c"/>
</g>
<rect x="492.45" y="339.30" width="1.1" height="9" fill="#7a7a7a"/>
<circle cx="509.4" cy="343.9" r="6.7" fill="#f6b41a"/>
<circle cx="509.40" cy="337.70" r="1.15" fill="#f6b41a"/>
<circle cx="512.50" cy="338.53" r="1.15" fill="#f6b41a"/>
<circle cx="514.77" cy="340.80" r="1.15" fill="#f6b41a"/>
<circle cx="515.60" cy="343.90" r="1.15" fill="#f6b41a"/>
<circle cx="514.77" cy="347.00" r="1.15" fill="#f6b41a"/>
<circle cx="512.50" cy="349.27" r="1.15" fill="#f6b41a"/>
<circle cx="509.40" cy="350.10" r="1.15" fill="#f6b41a"/>
<circle cx="506.30" cy="349.27" r="1.15" fill="#f6b41a"/>
<circle cx="504.03" cy="347.00" r="1.15" fill="#f6b41a"/>
<circle cx="503.20" cy="343.90" r="1.15" fill="#f6b41a"/>
<circle cx="504.03" cy="340.80" r="1.15" fill="#f6b41a"/>
<circle cx="506.30" cy="338.53" r="1.15" fill="#f6b41a"/>
<circle cx="509.4" cy="343.9" r="4.6" fill="#fbd24a"/>
<rect x="508.7" y="341.29999999999995" width="1.4" height="5.2" rx=".5" fill="#e89a12"/>
<rect x="526" y="335.70" width="97.77" height="14" fill="#9cc481"/>
<text x="630.57" y="346.50" font-size="8.5" fill="#446a44" font-weight="bold" font-family='"Liberation Sans",sans-serif' textLength="22.33" lengthAdjust="spacingAndGlyphs">862,9</text>
<text x="657.90" y="346.50" font-size="8.5" fill="#c09a2b" font-family='"Liberation Sans",sans-serif' textLength="24.82" lengthAdjust="spacingAndGlyphs">18,5%</text>
<text x="421.77" y="363.75" font-size="8.8" fill="#828282" font-weight="bold" font-family='"Liberation Sans",sans-serif' textLength="44.03" lengthAdjust="spacingAndGlyphs">São Paulo</text>
<clipPath id="f2"><circle cx="0" cy="0" r="6.4"/></clipPath><g transform="translate(478.20,360.45)" clip-path="url(#f2)">
<rect x="-7" y="-6.40" width="14" height="1.52" fill="#222"/>
<rect x="-7" y="-4.98" width="14" height="1.52" fill="#fff"/>
<rect x="-7" y="-3.56" width="14" height="1.52" fill="#222"/>
<rect x="-7" y="-2.13" width="14" height="1.52" fill="#fff"/>
<rect x="-7" y="-0.71" width="14" height="1.52" fill="#222"/>
<rect x="-7" y="0.71" width="14" height="1.52" fill="#fff"/>
<rect x="-7" y="2.13" width="14" height="1.52" fill="#222"/>
<rect x="-7" y="3.56" width="14" height="1.52" fill="#fff"/>
<rect x="-7" y="4.98" width="14" height="1.52" fill="#222"/>
<rect x="-7" y="-7" width="7" height="6" fill="#d8262c"/>
<circle cx="-2.5" cy="-4" r="1.3" fill="#fff"/>
</g>
<rect x="492.45" y="355.85" width="1.1" height="9" fill="#7a7a7a"/>
<circle cx="509.4" cy="360.45" r="6.7" fill="#8a8a8a"/>
<circle cx="509.40" cy="354.25" r="1.15" fill="#8a8a8a"/>
<circle cx="512.50" cy="355.08" r="1.15" fill="#8a8a8a"/>
<circle cx="514.77" cy="357.35" r="1.15" fill="#8a8a8a"/>
<circle cx="515.60" cy="360.45" r="1.15" fill="#8a8a8a"/>
<circle cx="514.77" cy="363.55" r="1.15" fill="#8a8a8a"/>
<circle cx="512.50" cy="365.82" r="1.15" fill="#8a8a8a"/>
<circle cx="509.40" cy="366.65" r="1.15" fill="#8a8a8a"/>
<circle cx="506.30" cy="365.82" r="1.15" fill="#8a8a8a"/>
<circle cx="504.03" cy="363.55" r="1.15" fill="#8a8a8a"/>
<circle cx="503.20" cy="360.45" r="1.15" fill="#8a8a8a"/>
<circle cx="504.03" cy="357.35" r="1.15" fill="#8a8a8a"/>
<circle cx="506.30" cy="355.08" r="1.15" fill="#8a8a8a"/>
<circle cx="509.4" cy="360.45" r="4.6" fill="#bdbdbd"/>
<rect x="508.7" y="357.84999999999997" width="1.4" height="5.2" rx=".5" fill="#6a6a6a"/>
<rect x="526" y="352.25" width="66.29" height="14" fill="#9cc481"/>
<text x="599.09" y="363.05" font-size="8.5" fill="#446a44" font-weight="bold" font-family='"Liberation Sans",sans-serif' textLength="22.33" lengthAdjust="spacingAndGlyphs">585,1</text>
<text x="626.43" y="363.05" font-size="8.5" fill="#c09a2b" font-family='"Liberation Sans",sans-serif' textLength="24.82" lengthAdjust="spacingAndGlyphs">12,5%</text>
<text x="386.35" y="380.30" font-size="8.8" fill="#828282" font-weight="bold" font-family='"Liberation Sans",sans-serif' textLength="79.45" lengthAdjust="spacingAndGlyphs">Rio Grande do Sul</text>
<clipPath id="f3"><circle cx="0" cy="0" r="6.4"/></clipPath><g transform="translate(478.20,377.00)" clip-path="url(#f3)">
<rect x="-7" y="-7" width="14" height="14" fill="#d8262c"/>
<polygon points="-7,-7 3,-7 -7,3" fill="#2e9a3c"/>
<polygon points="7,7 -3,7 7,-3" fill="#f8d417"/>
<circle cx="0" cy="0" r="2" fill="#5a3a2a"/>
</g>
<rect x="492.45" y="372.40" width="1.1" height="9" fill="#7a7a7a"/>
<circle cx="509.4" cy="377.0" r="6.7" fill="#c43a1c"/>
<circle cx="509.40" cy="370.80" r="1.15" fill="#c43a1c"/>
<circle cx="512.50" cy="371.63" r="1.15" fill="#c43a1c"/>
<circle cx="514.77" cy="373.90" r="1.15" fill="#c43a1c"/>
<circle cx="515.60" cy="377.00" r="1.15" fill="#c43a1c"/>
<circle cx="514.77" cy="380.10" r="1.15" fill="#c43a1c"/>
<circle cx="512.50" cy="382.37" r="1.15" fill="#c43a1c"/>
<circle cx="509.40" cy="383.20" r="1.15" fill="#c43a1c"/>
<circle cx="506.30" cy="382.37" r="1.15" fill="#c43a1c"/>
<circle cx="504.03" cy="380.10" r="1.15" fill="#c43a1c"/>
<circle cx="503.20" cy="377.00" r="1.15" fill="#c43a1c"/>
<circle cx="504.03" cy="373.90" r="1.15" fill="#c43a1c"/>
<circle cx="506.30" cy="371.63" r="1.15" fill="#c43a1c"/>
<circle cx="509.4" cy="377.0" r="4.6" fill="#d8582a"/>
<rect x="508.7" y="374.4" width="1.4" height="5.2" rx=".5" fill="#a82a12"/>
<rect x="526" y="368.80" width="65.32" height="14" fill="#9cc481"/>
<text x="598.12" y="379.60" font-size="8.5" fill="#446a44" font-weight="bold" font-family='"Liberation Sans",sans-serif' textLength="22.33" lengthAdjust="spacingAndGlyphs">576,5</text>
<text x="625.45" y="379.60" font-size="8.5" fill="#c09a2b" font-family='"Liberation Sans",sans-serif' textLength="24.82" lengthAdjust="spacingAndGlyphs">12,4%</text>
<text x="410.13" y="396.85" font-size="8.8" fill="#828282" font-weight="bold" font-family='"Liberation Sans",sans-serif' textLength="55.67" lengthAdjust="spacingAndGlyphs">Mato Grosso</text>
<clipPath id="f4"><circle cx="0" cy="0" r="6.4"/></clipPath><g transform="translate(478.20,393.55)" clip-path="url(#f4)">
<rect x="-7" y="-7" width="14" height="14" fill="#1d2a7a"/>
<polygon points="0,-5 6.4,0 0,5 -6.4,0" fill="#fff"/>
<circle cx="0" cy="0" r="3.3" fill="#4a9a3a"/>
<circle cx="0" cy="0" r="1.4" fill="#e8d23a"/>
</g>
<rect x="492.45" y="388.95" width="1.1" height="9" fill="#7a7a7a"/>
<text x="502.78" y="395.35" font-size="8.5" fill="#7d7d7d" font-family='"Liberation Sans",sans-serif' textLength="10.35" lengthAdjust="spacingAndGlyphs" stroke="#7d7d7d" stroke-width=".35">4º</text>
<rect x="526" y="385.35" width="39.16" height="14" fill="#9cc481"/>
<text x="571.96" y="396.15" font-size="8.5" fill="#446a44" font-weight="bold" font-family='"Liberation Sans",sans-serif' textLength="22.33" lengthAdjust="spacingAndGlyphs">345,6</text>
<text x="599.29" y="396.15" font-size="8.5" fill="#c09a2b" font-family='"Liberation Sans",sans-serif' textLength="19.96" lengthAdjust="spacingAndGlyphs">7,4%</text>
<text x="435.42" y="413.40" font-size="8.8" fill="#828282" font-weight="bold" font-family='"Liberation Sans",sans-serif' textLength="30.38" lengthAdjust="spacingAndGlyphs">Paraná</text>
<clipPath id="f5"><circle cx="0" cy="0" r="6.4"/></clipPath><g transform="translate(478.20,410.10)" clip-path="url(#f5)">
<rect x="-7" y="-7" width="14" height="14" fill="#2e9a4c"/>
<line x1="-8" y1="8" x2="8" y2="-8" stroke="#fff" stroke-width="5"/>
<circle cx="0" cy="0" r="3" fill="#2b5aa8"/>
<line x1="-8" y1="8" x2="8" y2="-8" stroke="#dfe9f5" stroke-width="1.2"/>
</g>
<rect x="492.45" y="405.50" width="1.1" height="9" fill="#7a7a7a"/>
<text x="502.54" y="411.90" font-size="8.5" fill="#7d7d7d" font-family='"Liberation Sans",sans-serif' textLength="10.59" lengthAdjust="spacingAndGlyphs" stroke="#7d7d7d" stroke-width=".35">5º</text>
<rect x="526" y="401.90" width="32.25" height="14" fill="#9cc481"/>
<text x="565.05" y="412.70" font-size="8.5" fill="#446a44" font-weight="bold" font-family='"Liberation Sans",sans-serif' textLength="22.33" lengthAdjust="spacingAndGlyphs">284,6</text>
<text x="592.38" y="412.70" font-size="8.5" fill="#c09a2b" font-family='"Liberation Sans",sans-serif' textLength="19.96" lengthAdjust="spacingAndGlyphs">6,1%</text>
<text x="440.49" y="429.95" font-size="8.8" fill="#828282" font-weight="bold" font-family='"Liberation Sans",sans-serif' textLength="25.31" lengthAdjust="spacingAndGlyphs">Goiás</text>
<clipPath id="f6"><circle cx="0" cy="0" r="6.4"/></clipPath><g transform="translate(478.20,426.65)" clip-path="url(#f6)">
<rect x="-7" y="-6.40" width="14" height="1.70" fill="#3aa23c"/>
<rect x="-7" y="-4.80" width="14" height="1.70" fill="#f4dc2a"/>
<rect x="-7" y="-3.20" width="14" height="1.70" fill="#3aa23c"/>
<rect x="-7" y="-1.60" width="14" height="1.70" fill="#f4dc2a"/>
<rect x="-7" y="0.00" width="14" height="1.70" fill="#3aa23c"/>
<rect x="-7" y="1.60" width="14" height="1.70" fill="#f4dc2a"/>
<rect x="-7" y="3.20" width="14" height="1.70" fill="#3aa23c"/>
<rect x="-7" y="4.80" width="14" height="1.70" fill="#f4dc2a"/>
<rect x="-7" y="-7" width="7" height="6" fill="#2b4aa8"/>
</g>
<rect x="492.45" y="422.05" width="1.1" height="9" fill="#7a7a7a"/>
<text x="502.42" y="428.45" font-size="8.5" fill="#7d7d7d" font-family='"Liberation Sans",sans-serif' textLength="10.71" lengthAdjust="spacingAndGlyphs" stroke="#7d7d7d" stroke-width=".35">6º</text>
<rect x="526" y="418.45" width="27.87" height="14" fill="#9cc481"/>
<text x="560.67" y="429.25" font-size="8.5" fill="#446a44" font-weight="bold" font-family='"Liberation Sans",sans-serif' textLength="22.33" lengthAdjust="spacingAndGlyphs">246,0</text>
<text x="588.01" y="429.25" font-size="8.5" fill="#c09a2b" font-family='"Liberation Sans",sans-serif' textLength="19.96" lengthAdjust="spacingAndGlyphs">5,3%</text>
<text x="402.02" y="446.50" font-size="8.8" fill="#828282" font-weight="bold" font-family='"Liberation Sans",sans-serif' textLength="63.78" lengthAdjust="spacingAndGlyphs">Santa Catarina</text>
<clipPath id="f7"><circle cx="0" cy="0" r="6.4"/></clipPath><g transform="translate(478.20,443.20)" clip-path="url(#f7)">
<rect x="-7" y="-6.40" width="14" height="4.37" fill="#d8262c"/>
<rect x="-7" y="-2.13" width="14" height="4.37" fill="#fff"/>
<rect x="-7" y="2.13" width="14" height="4.37" fill="#d8262c"/>
<polygon points="0,-4.5 5.5,0 0,4.5 -5.5,0" fill="#6aa84a"/>
<circle cx="0" cy="0" r="2" fill="#d8c23a"/>
</g>
<rect x="492.45" y="438.60" width="1.1" height="9" fill="#7a7a7a"/>
<text x="502.42" y="445.00" font-size="8.5" fill="#7d7d7d" font-family='"Liberation Sans",sans-serif' textLength="10.71" lengthAdjust="spacingAndGlyphs" stroke="#7d7d7d" stroke-width=".35">7º</text>
<rect x="526" y="435.00" width="25.75" height="14" fill="#9cc481"/>
<text x="558.55" y="445.80" font-size="8.5" fill="#446a44" font-weight="bold" font-family='"Liberation Sans",sans-serif' textLength="22.33" lengthAdjust="spacingAndGlyphs">227,3</text>
<text x="585.89" y="445.80" font-size="8.5" fill="#c09a2b" font-family='"Liberation Sans",sans-serif' textLength="19.96" lengthAdjust="spacingAndGlyphs">4,9%</text>
<text x="403.04" y="463.05" font-size="8.8" fill="#828282" font-weight="bold" font-family='"Liberation Sans",sans-serif' textLength="62.76" lengthAdjust="spacingAndGlyphs">Rio de Janeiro</text>
<clipPath id="f8"><circle cx="0" cy="0" r="6.4"/></clipPath><g transform="translate(478.20,459.75)" clip-path="url(#f8)">
<rect x="-7" y="-7" width="14" height="14" fill="#fff"/>
<polygon points="-7,-7 0,-7 0,0 -7,0" fill="#fff"/>
<line x1="-8" y1="8" x2="8" y2="-8" stroke="#2f9fe0" stroke-width="6"/>
<circle cx="0" cy="0" r="2.6" fill="#5a4a3a"/>
</g>
<rect x="492.45" y="455.15" width="1.1" height="9" fill="#7a7a7a"/>
<text x="502.54" y="461.55" font-size="8.5" fill="#7d7d7d" font-family='"Liberation Sans",sans-serif' textLength="10.59" lengthAdjust="spacingAndGlyphs" stroke="#7d7d7d" stroke-width=".35">8º</text>
<rect x="526" y="451.55" width="21.28" height="14" fill="#9cc481"/>
<text x="554.08" y="462.35" font-size="8.5" fill="#446a44" font-weight="bold" font-family='"Liberation Sans",sans-serif' textLength="22.33" lengthAdjust="spacingAndGlyphs">187,8</text>
<text x="581.41" y="462.35" font-size="8.5" fill="#c09a2b" font-family='"Liberation Sans",sans-serif' textLength="19.96" lengthAdjust="spacingAndGlyphs">4,0%</text>
<text x="440.48" y="479.60" font-size="8.8" fill="#828282" font-weight="bold" font-family='"Liberation Sans",sans-serif' textLength="25.32" lengthAdjust="spacingAndGlyphs">Ceará</text>
<clipPath id="f9"><circle cx="0" cy="0" r="6.4"/></clipPath><g transform="translate(478.20,476.30)" clip-path="url(#f9)">
<rect x="-7" y="-7" width="14" height="14" fill="#2e9a3c"/>
<polygon points="0,-4.5 5.5,0 0,4.5 -5.5,0" fill="#f4dc2a"/>
<circle cx="0" cy="0" r="2.6" fill="#fff"/>
<circle cx="0" cy="0" r="1.4" fill="#3a8a3a"/>
</g>
<rect x="492.45" y="471.70" width="1.1" height="9" fill="#7a7a7a"/>
<text x="502.48" y="478.10" font-size="8.5" fill="#7d7d7d" font-family='"Liberation Sans",sans-serif' textLength="10.65" lengthAdjust="spacingAndGlyphs" stroke="#7d7d7d" stroke-width=".35">9º</text>
<rect x="526" y="468.10" width="18.30" height="14" fill="#9cc481"/>
<text x="551.10" y="478.90" font-size="8.5" fill="#446a44" font-weight="bold" font-family='"Liberation Sans",sans-serif' textLength="22.33" lengthAdjust="spacingAndGlyphs">161,5</text>
<text x="578.43" y="478.90" font-size="8.5" fill="#c09a2b" font-family='"Liberation Sans",sans-serif' textLength="19.96" lengthAdjust="spacingAndGlyphs">3,5%</text>
<text x="441.00" y="496.15" font-size="8.8" fill="#828282" font-weight="bold" font-family='"Liberation Sans",sans-serif' textLength="24.80" lengthAdjust="spacingAndGlyphs">Bahia</text>
<clipPath id="f10"><circle cx="0" cy="0" r="6.4"/></clipPath><g transform="translate(478.20,492.85)" clip-path="url(#f10)">
<rect x="-7" y="-6.40" width="14" height="3.30" fill="#fff"/>
<rect x="-7" y="-3.20" width="14" height="3.30" fill="#d8262c"/>
<rect x="-7" y="0.00" width="14" height="3.30" fill="#fff"/>
<rect x="-7" y="3.20" width="14" height="3.30" fill="#d8262c"/>
<rect x="-7" y="-7" width="7" height="6.4" fill="#2b4aa8"/>
<polygon points="-3.5,-5.5 -1,-1.5 -6,-1.5" fill="#fff"/>
</g>
<rect x="492.45" y="488.25" width="1.1" height="9" fill="#7a7a7a"/>
<text x="497.19" y="494.65" font-size="8.5" fill="#7d7d7d" font-family='"Liberation Sans",sans-serif' textLength="15.95" lengthAdjust="spacingAndGlyphs" stroke="#7d7d7d" stroke-width=".35">10º</text>
<rect x="526" y="484.65" width="17.69" height="14" fill="#9cc481"/>
<text x="550.49" y="495.45" font-size="8.5" fill="#446a44" font-weight="bold" font-family='"Liberation Sans",sans-serif' textLength="22.33" lengthAdjust="spacingAndGlyphs">156,1</text>
<text x="577.82" y="495.45" font-size="8.5" fill="#c09a2b" font-family='"Liberation Sans",sans-serif' textLength="19.96" lengthAdjust="spacingAndGlyphs">3,3%</text>
<text x="379.77" y="512.70" font-size="8.8" fill="#828282" font-weight="bold" font-family='"Liberation Sans",sans-serif' textLength="86.03" lengthAdjust="spacingAndGlyphs">Mato Grosso do Sul</text>
<clipPath id="f11"><circle cx="0" cy="0" r="6.4"/></clipPath><g transform="translate(478.20,509.40)" clip-path="url(#f11)">
<rect x="-7" y="-7" width="14" height="14" fill="#5b8fd0"/>
<polygon points="-7,-7 1,-7 -7,3" fill="#2e9a4c"/>
<line x1="-8" y1="5" x2="8" y2="-11" stroke="#fff" stroke-width="3"/>
</g>
<rect x="492.45" y="504.80" width="1.1" height="9" fill="#7a7a7a"/>
<text x="497.15" y="511.20" font-size="8.5" fill="#7d7d7d" font-family='"Liberation Sans",sans-serif' textLength="15.95" lengthAdjust="spacingAndGlyphs" stroke="#7d7d7d" stroke-width=".35">11º</text>
<rect x="526" y="501.20" width="17.54" height="14" fill="#9cc481"/>
<text x="550.34" y="512.00" font-size="8.5" fill="#446a44" font-weight="bold" font-family='"Liberation Sans",sans-serif' textLength="22.33" lengthAdjust="spacingAndGlyphs">154,8</text>
<text x="577.67" y="512.00" font-size="8.5" fill="#c09a2b" font-family='"Liberation Sans",sans-serif' textLength="19.96" lengthAdjust="spacingAndGlyphs">3,3%</text>
<text x="410.63" y="529.25" font-size="8.8" fill="#828282" font-weight="bold" font-family='"Liberation Sans",sans-serif' textLength="55.17" lengthAdjust="spacingAndGlyphs">Pernambuco</text>
<clipPath id="f12"><circle cx="0" cy="0" r="6.4"/></clipPath><g transform="translate(478.20,525.95)" clip-path="url(#f12)">
<rect x="-7" y="-6.40" width="14" height="6.50" fill="#1d2a6a"/>
<rect x="-7" y="0.00" width="14" height="6.50" fill="#fff"/>
<circle cx="0" cy="-1.5" r="2.2" fill="#f2c43a"/>
<rect x="-0.4" y="1" width="0.8" height="4" fill="#d8262c"/>
</g>
<rect x="492.45" y="521.35" width="1.1" height="9" fill="#7a7a7a"/>
<text x="497.19" y="527.75" font-size="8.5" fill="#7d7d7d" font-family='"Liberation Sans",sans-serif' textLength="15.95" lengthAdjust="spacingAndGlyphs" stroke="#7d7d7d" stroke-width=".35">12º</text>
<rect x="526" y="517.75" width="15.01" height="14" fill="#9cc481"/>
<text x="547.81" y="528.55" font-size="8.5" fill="#446a44" font-weight="bold" font-family='"Liberation Sans",sans-serif' textLength="22.33" lengthAdjust="spacingAndGlyphs">132,5</text>
<text x="575.15" y="528.55" font-size="8.5" fill="#c09a2b" font-family='"Liberation Sans",sans-serif' textLength="19.96" lengthAdjust="spacingAndGlyphs">2,8%</text>
<text x="446.05" y="545.80" font-size="8.8" fill="#828282" font-weight="bold" font-family='"Liberation Sans",sans-serif' textLength="19.75" lengthAdjust="spacingAndGlyphs">Pará</text>
<clipPath id="f13"><circle cx="0" cy="0" r="6.4"/></clipPath><g transform="translate(478.20,542.50)" clip-path="url(#f13)">
<rect x="-7" y="-7" width="14" height="14" fill="#d8262c"/>
<line x1="-8" y1="-8" x2="8" y2="8" stroke="#fff" stroke-width="4.5"/>
<circle cx="0" cy="0" r="1.4" fill="#2b4aa8"/>
</g>
<rect x="492.45" y="537.90" width="1.1" height="9" fill="#7a7a7a"/>
<text x="497.19" y="544.30" font-size="8.5" fill="#7d7d7d" font-family='"Liberation Sans",sans-serif' textLength="15.95" lengthAdjust="spacingAndGlyphs" stroke="#7d7d7d" stroke-width=".35">13º</text>
<rect x="526" y="534.30" width="11.47" height="14" fill="#9cc481"/>
<text x="544.27" y="545.10" font-size="8.5" fill="#446a44" font-weight="bold" font-family='"Liberation Sans",sans-serif' textLength="22.33" lengthAdjust="spacingAndGlyphs">101,2</text>
<text x="571.60" y="545.10" font-size="8.5" fill="#c09a2b" font-family='"Liberation Sans",sans-serif' textLength="19.96" lengthAdjust="spacingAndGlyphs">2,2%</text>
<text x="444.03" y="562.35" font-size="8.8" fill="#828282" font-weight="bold" font-family='"Liberation Sans",sans-serif' textLength="21.77" lengthAdjust="spacingAndGlyphs">Piauí</text>
<clipPath id="f14"><circle cx="0" cy="0" r="6.4"/></clipPath><g transform="translate(478.20,559.05)" clip-path="url(#f14)">
<rect x="-7" y="-6.40" width="14" height="1.93" fill="#3aa23c"/>
<rect x="-7" y="-4.57" width="14" height="1.93" fill="#e8d43a"/>
<rect x="-7" y="-2.74" width="14" height="1.93" fill="#3aa23c"/>
<rect x="-7" y="-0.91" width="14" height="1.93" fill="#e8d43a"/>
<rect x="-7" y="0.91" width="14" height="1.93" fill="#3aa23c"/>
<rect x="-7" y="2.74" width="14" height="1.93" fill="#e8d43a"/>
<rect x="-7" y="4.57" width="14" height="1.93" fill="#3aa23c"/>
<rect x="-7" y="-7" width="6" height="5.5" fill="#2b4aa8"/>
</g>
<rect x="492.45" y="554.45" width="1.1" height="9" fill="#7a7a7a"/>
<text x="497.19" y="560.85" font-size="8.5" fill="#7d7d7d" font-family='"Liberation Sans",sans-serif' textLength="15.95" lengthAdjust="spacingAndGlyphs" stroke="#7d7d7d" stroke-width=".35">14º</text>
<rect x="526" y="550.85" width="10.31" height="14" fill="#9cc481"/>
<text x="543.11" y="561.65" font-size="8.5" fill="#446a44" font-weight="bold" font-family='"Liberation Sans",sans-serif' textLength="17.37" lengthAdjust="spacingAndGlyphs">91,0</text>
<text x="565.48" y="561.65" font-size="8.5" fill="#c09a2b" font-family='"Liberation Sans",sans-serif' textLength="19.96" lengthAdjust="spacingAndGlyphs">1,9%</text>
<text x="432.89" y="578.90" font-size="8.8" fill="#828282" font-weight="bold" font-family='"Liberation Sans",sans-serif' textLength="32.91" lengthAdjust="spacingAndGlyphs">Paraíba</text>
<clipPath id="f15"><circle cx="0" cy="0" r="6.4"/></clipPath><g transform="translate(478.20,575.60)" clip-path="url(#f15)">
<rect x="-7" y="-7" width="14" height="14" fill="#e3061c"/>
<rect x="-7" y="-7" width="5" height="14" fill="#111"/>
<rect x="0" y="-0.6" width="4" height="1.2" fill="#fff"/>
</g>
<rect x="492.45" y="571.00" width="1.1" height="9" fill="#7a7a7a"/>
<text x="497.19" y="577.40" font-size="8.5" fill="#7d7d7d" font-family='"Liberation Sans",sans-serif' textLength="15.95" lengthAdjust="spacingAndGlyphs" stroke="#7d7d7d" stroke-width=".35">15º</text>
<rect x="526" y="567.40" width="10.14" height="14" fill="#9cc481"/>
<text x="542.94" y="578.20" font-size="8.5" fill="#446a44" font-weight="bold" font-family='"Liberation Sans",sans-serif' textLength="17.37" lengthAdjust="spacingAndGlyphs">89,5</text>
<text x="565.31" y="578.20" font-size="8.5" fill="#c09a2b" font-family='"Liberation Sans",sans-serif' textLength="19.96" lengthAdjust="spacingAndGlyphs">1,9%</text>
<text x="376.74" y="595.45" font-size="8.8" fill="#828282" font-weight="bold" font-family='"Liberation Sans",sans-serif' textLength="89.06" lengthAdjust="spacingAndGlyphs">Rio Grande do Norte</text>
<clipPath id="f16"><circle cx="0" cy="0" r="6.4"/></clipPath><g transform="translate(478.20,592.15)" clip-path="url(#f16)">
<rect x="-7" y="-6.40" width="14" height="6.50" fill="#2e9a3c"/>
<rect x="-7" y="0.00" width="14" height="6.50" fill="#fff"/>
<circle cx="0" cy="0.5" r="3" fill="#6aa84a"/>
<circle cx="0" cy="1" r="1.6" fill="#e8d43a"/>
</g>
<rect x="492.45" y="587.55" width="1.1" height="9" fill="#7a7a7a"/>
<text x="497.19" y="593.95" font-size="8.5" fill="#7d7d7d" font-family='"Liberation Sans",sans-serif' textLength="15.95" lengthAdjust="spacingAndGlyphs" stroke="#7d7d7d" stroke-width=".35">16º</text>
<rect x="526" y="583.95" width="9.99" height="14" fill="#9cc481"/>
<text x="542.79" y="594.75" font-size="8.5" fill="#446a44" font-weight="bold" font-family='"Liberation Sans",sans-serif' textLength="17.37" lengthAdjust="spacingAndGlyphs">88,2</text>
<text x="565.16" y="594.75" font-size="8.5" fill="#c09a2b" font-family='"Liberation Sans",sans-serif' textLength="19.96" lengthAdjust="spacingAndGlyphs">1,9%</text>
<text x="404.06" y="612.00" font-size="8.8" fill="#828282" font-weight="bold" font-family='"Liberation Sans",sans-serif' textLength="61.74" lengthAdjust="spacingAndGlyphs">Espírito Santo</text>
<clipPath id="f17"><circle cx="0" cy="0" r="6.4"/></clipPath><g transform="translate(478.20,608.70)" clip-path="url(#f17)">
<rect x="-7" y="-6.40" width="14" height="4.37" fill="#2f8fd8"/>
<rect x="-7" y="-2.13" width="14" height="4.37" fill="#fff"/>
<rect x="-7" y="2.13" width="14" height="4.37" fill="#f2a6c0"/>
</g>
<rect x="492.45" y="604.10" width="1.1" height="9" fill="#7a7a7a"/>
<text x="497.19" y="610.50" font-size="8.5" fill="#7d7d7d" font-family='"Liberation Sans",sans-serif' textLength="15.95" lengthAdjust="spacingAndGlyphs" stroke="#7d7d7d" stroke-width=".35">17º</text>
<rect x="526" y="600.50" width="9.62" height="14" fill="#9cc481"/>
<text x="542.42" y="611.30" font-size="8.5" fill="#446a44" font-weight="bold" font-family='"Liberation Sans",sans-serif' textLength="17.37" lengthAdjust="spacingAndGlyphs">84,9</text>
<text x="564.79" y="611.30" font-size="8.5" fill="#c09a2b" font-family='"Liberation Sans",sans-serif' textLength="19.96" lengthAdjust="spacingAndGlyphs">1,8%</text>
<text x="423.46" y="628.55" font-size="8.8" fill="#828282" font-weight="bold" font-family='"Liberation Sans",sans-serif' textLength="42.34" lengthAdjust="spacingAndGlyphs">Tocantins</text>
<clipPath id="f18"><circle cx="0" cy="0" r="6.4"/></clipPath><g transform="translate(478.20,625.25)" clip-path="url(#f18)">
<rect x="-7" y="-7" width="14" height="14" fill="#fff"/>
<polygon points="-7,-7 2,-7 -7,1" fill="#2b4aa8"/>
<polygon points="7,7 -2,7 7,-1" fill="#f4b43a"/>
<circle cx="0" cy="0" r="2.2" fill="#f4b43a"/>
</g>
<rect x="492.45" y="620.65" width="1.1" height="9" fill="#7a7a7a"/>
<text x="497.19" y="627.05" font-size="8.5" fill="#7d7d7d" font-family='"Liberation Sans",sans-serif' textLength="15.95" lengthAdjust="spacingAndGlyphs" stroke="#7d7d7d" stroke-width=".35">18º</text>
<rect x="526" y="617.05" width="6.79" height="14" fill="#9cc481"/>
<text x="539.59" y="627.85" font-size="8.5" fill="#446a44" font-weight="bold" font-family='"Liberation Sans",sans-serif' textLength="17.37" lengthAdjust="spacingAndGlyphs">59,9</text>
<text x="561.96" y="627.85" font-size="8.5" fill="#c09a2b" font-family='"Liberation Sans",sans-serif' textLength="19.96" lengthAdjust="spacingAndGlyphs">1,3%</text>
<text x="422.78" y="645.10" font-size="8.8" fill="#828282" font-weight="bold" font-family='"Liberation Sans",sans-serif' textLength="43.02" lengthAdjust="spacingAndGlyphs">Maranhão</text>
<clipPath id="f19"><circle cx="0" cy="0" r="6.4"/></clipPath><g transform="translate(478.20,641.80)" clip-path="url(#f19)">
<rect x="-7" y="-6.40" width="14" height="1.52" fill="#d8262c"/>
<rect x="-7" y="-4.98" width="14" height="1.52" fill="#fff"/>
<rect x="-7" y="-3.56" width="14" height="1.52" fill="#222"/>
<rect x="-7" y="-2.13" width="14" height="1.52" fill="#fff"/>
<rect x="-7" y="-0.71" width="14" height="1.52" fill="#d8262c"/>
<rect x="-7" y="0.71" width="14" height="1.52" fill="#fff"/>
<rect x="-7" y="2.13" width="14" height="1.52" fill="#222"/>
<rect x="-7" y="3.56" width="14" height="1.52" fill="#fff"/>
<rect x="-7" y="4.98" width="14" height="1.52" fill="#d8262c"/>
<rect x="-7" y="-7" width="6.5" height="6" fill="#2b4aa8"/>
</g>
<rect x="492.45" y="637.20" width="1.1" height="9" fill="#7a7a7a"/>
<text x="497.19" y="643.60" font-size="8.5" fill="#7d7d7d" font-family='"Liberation Sans",sans-serif' textLength="15.95" lengthAdjust="spacingAndGlyphs" stroke="#7d7d7d" stroke-width=".35">19º</text>
<rect x="526" y="633.60" width="5.73" height="14" fill="#9cc481"/>
<text x="538.53" y="644.40" font-size="8.5" fill="#446a44" font-weight="bold" font-family='"Liberation Sans",sans-serif' textLength="17.37" lengthAdjust="spacingAndGlyphs">50,6</text>
<text x="560.90" y="644.40" font-size="8.5" fill="#c09a2b" font-family='"Liberation Sans",sans-serif' textLength="19.96" lengthAdjust="spacingAndGlyphs">1,1%</text>
<text x="423.81" y="661.65" font-size="8.8" fill="#828282" font-weight="bold" font-family='"Liberation Sans",sans-serif' textLength="41.99" lengthAdjust="spacingAndGlyphs">Rondônia</text>
<clipPath id="f20"><circle cx="0" cy="0" r="6.4"/></clipPath><g transform="translate(478.20,658.35)" clip-path="url(#f20)">
<rect x="-7" y="-6.40" width="14" height="6.50" fill="#1d3a9a"/>
<rect x="-7" y="0.00" width="14" height="6.50" fill="#f4dc2a"/>
<polygon points="-7,7 0,1.5 7,7" fill="#2e9a3c"/>
<circle cx="0" cy="-1.5" r="1.6" fill="#fff"/>
</g>
<rect x="492.45" y="653.75" width="1.1" height="9" fill="#7a7a7a"/>
<text x="497.47" y="660.15" font-size="8.5" fill="#7d7d7d" font-family='"Liberation Sans",sans-serif' textLength="15.66" lengthAdjust="spacingAndGlyphs" stroke="#7d7d7d" stroke-width=".35">20º</text>
<rect x="526" y="650.15" width="4.58" height="14" fill="#9cc481"/>
<text x="537.38" y="660.95" font-size="8.5" fill="#446a44" font-weight="bold" font-family='"Liberation Sans",sans-serif' textLength="17.37" lengthAdjust="spacingAndGlyphs">40,4</text>
<text x="559.75" y="660.95" font-size="8.5" fill="#c09a2b" font-family='"Liberation Sans",sans-serif' textLength="19.96" lengthAdjust="spacingAndGlyphs">0,9%</text>
<text x="398.99" y="678.20" font-size="8.8" fill="#828282" font-weight="bold" font-family='"Liberation Sans",sans-serif' textLength="66.81" lengthAdjust="spacingAndGlyphs">Distrito Federal</text>
<clipPath id="f21"><circle cx="0" cy="0" r="6.4"/></clipPath><g transform="translate(478.20,674.90)" clip-path="url(#f21)">
<rect x="-7" y="-7" width="14" height="14" fill="#fff"/>
<rect x="-2.4" y="-2.6" width="4.8" height="5.2" fill="#2e9a3c"/>
</g>
<rect x="492.45" y="670.30" width="1.1" height="9" fill="#7a7a7a"/>
<text x="497.47" y="676.70" font-size="8.5" fill="#7d7d7d" font-family='"Liberation Sans",sans-serif' textLength="15.66" lengthAdjust="spacingAndGlyphs" stroke="#7d7d7d" stroke-width=".35">21º</text>
<rect x="526" y="666.70" width="4.42" height="14" fill="#9cc481"/>
<text x="537.22" y="677.50" font-size="8.5" fill="#446a44" font-weight="bold" font-family='"Liberation Sans",sans-serif' textLength="17.37" lengthAdjust="spacingAndGlyphs">39,0</text>
<text x="559.59" y="677.50" font-size="8.5" fill="#c09a2b" font-family='"Liberation Sans",sans-serif' textLength="19.96" lengthAdjust="spacingAndGlyphs">0,8%</text>
<text x="430.37" y="694.75" font-size="8.8" fill="#828282" font-weight="bold" font-family='"Liberation Sans",sans-serif' textLength="35.43" lengthAdjust="spacingAndGlyphs">Alagoas</text>
<clipPath id="f22"><circle cx="0" cy="0" r="6.4"/></clipPath><g transform="translate(478.20,691.45)" clip-path="url(#f22)">
<rect x="-6.40" y="-7" width="4.37" height="14" fill="#d8262c"/>
<rect x="-2.13" y="-7" width="4.37" height="14" fill="#fff"/>
<rect x="2.13" y="-7" width="4.37" height="14" fill="#2f7fd0"/>
<circle cx="0" cy="0" r="2.8" fill="#444"/>
</g>
<rect x="492.45" y="686.85" width="1.1" height="9" fill="#7a7a7a"/>
<text x="497.47" y="693.25" font-size="8.5" fill="#7d7d7d" font-family='"Liberation Sans",sans-serif' textLength="15.66" lengthAdjust="spacingAndGlyphs" stroke="#7d7d7d" stroke-width=".35">22º</text>
<rect x="526" y="683.25" width="3.87" height="14" fill="#9cc481"/>
<text x="536.67" y="694.05" font-size="8.5" fill="#446a44" font-weight="bold" font-family='"Liberation Sans",sans-serif' textLength="17.37" lengthAdjust="spacingAndGlyphs">34,2</text>
<text x="559.05" y="694.05" font-size="8.5" fill="#c09a2b" font-family='"Liberation Sans",sans-serif' textLength="19.96" lengthAdjust="spacingAndGlyphs">0,7%</text>
<text x="432.39" y="711.30" font-size="8.8" fill="#828282" font-weight="bold" font-family='"Liberation Sans",sans-serif' textLength="33.41" lengthAdjust="spacingAndGlyphs">Sergipe</text>
<clipPath id="f23"><circle cx="0" cy="0" r="6.4"/></clipPath><g transform="translate(478.20,708.00)" clip-path="url(#f23)">
<rect x="-7" y="-6.40" width="14" height="3.30" fill="#3aa23c"/>
<rect x="-7" y="-3.20" width="14" height="3.30" fill="#e8d43a"/>
<rect x="-7" y="0.00" width="14" height="3.30" fill="#3aa23c"/>
<rect x="-7" y="3.20" width="14" height="3.30" fill="#e8d43a"/>
<rect x="-7" y="-7" width="6.5" height="5.5" fill="#2b4aa8"/>
</g>
<rect x="492.45" y="703.40" width="1.1" height="9" fill="#7a7a7a"/>
<text x="497.47" y="709.80" font-size="8.5" fill="#7d7d7d" font-family='"Liberation Sans",sans-serif' textLength="15.66" lengthAdjust="spacingAndGlyphs" stroke="#7d7d7d" stroke-width=".35">23º</text>
<rect x="526" y="699.80" width="3.13" height="14" fill="#9cc481"/>
<text x="535.93" y="710.60" font-size="8.5" fill="#446a44" font-weight="bold" font-family='"Liberation Sans",sans-serif' textLength="17.37" lengthAdjust="spacingAndGlyphs">27,6</text>
<text x="558.30" y="710.60" font-size="8.5" fill="#c09a2b" font-family='"Liberation Sans",sans-serif' textLength="19.96" lengthAdjust="spacingAndGlyphs">0,6%</text>
<text x="420.25" y="727.85" font-size="8.8" fill="#828282" font-weight="bold" font-family='"Liberation Sans",sans-serif' textLength="45.55" lengthAdjust="spacingAndGlyphs">Amazonas</text>
<clipPath id="f24"><circle cx="0" cy="0" r="6.4"/></clipPath><g transform="translate(478.20,724.55)" clip-path="url(#f24)">
<rect x="-7" y="-6.40" width="14" height="4.37" fill="#fff"/>
<rect x="-7" y="-2.13" width="14" height="4.37" fill="#d8262c"/>
<rect x="-7" y="2.13" width="14" height="4.37" fill="#fff"/>
<rect x="-7" y="-7" width="6" height="4.6" fill="#2b4aa8"/>
</g>
<rect x="492.45" y="719.95" width="1.1" height="9" fill="#7a7a7a"/>
<text x="497.47" y="726.35" font-size="8.5" fill="#7d7d7d" font-family='"Liberation Sans",sans-serif' textLength="15.66" lengthAdjust="spacingAndGlyphs" stroke="#7d7d7d" stroke-width=".35">24º</text>
<rect x="526" y="716.35" width="2.54" height="14" fill="#9cc481"/>
<text x="535.34" y="727.15" font-size="8.5" fill="#446a44" font-weight="bold" font-family='"Liberation Sans",sans-serif' textLength="17.37" lengthAdjust="spacingAndGlyphs">22,4</text>
<text x="557.71" y="727.15" font-size="8.5" fill="#c09a2b" font-family='"Liberation Sans",sans-serif' textLength="19.96" lengthAdjust="spacingAndGlyphs">0,5%</text>
<text x="445.55" y="744.40" font-size="8.8" fill="#828282" font-weight="bold" font-family='"Liberation Sans",sans-serif' textLength="20.25" lengthAdjust="spacingAndGlyphs">Acre</text>
<clipPath id="f25"><circle cx="0" cy="0" r="6.4"/></clipPath><g transform="translate(478.20,741.10)" clip-path="url(#f25)">
<rect x="-7" y="-7" width="14" height="14" fill="#f4dc2a"/>
<polygon points="7,-7 7,7 -7,7" fill="#2e9a3c"/>
</g>
<rect x="492.45" y="736.50" width="1.1" height="9" fill="#7a7a7a"/>
<text x="497.47" y="742.90" font-size="8.5" fill="#7d7d7d" font-family='"Liberation Sans",sans-serif' textLength="15.66" lengthAdjust="spacingAndGlyphs" stroke="#7d7d7d" stroke-width=".35">25º</text>
<rect x="526" y="732.90" width="0.96" height="14" fill="#9cc481"/>
<text x="533.76" y="743.70" font-size="8.5" fill="#446a44" font-weight="bold" font-family='"Liberation Sans",sans-serif' textLength="12.41" lengthAdjust="spacingAndGlyphs">8,5</text>
<text x="551.17" y="743.70" font-size="8.5" fill="#c09a2b" font-family='"Liberation Sans",sans-serif' textLength="19.96" lengthAdjust="spacingAndGlyphs">0,2%</text>
<text x="435.43" y="760.95" font-size="8.8" fill="#828282" font-weight="bold" font-family='"Liberation Sans",sans-serif' textLength="30.37" lengthAdjust="spacingAndGlyphs">Amapá</text>
<clipPath id="f26"><circle cx="0" cy="0" r="6.4"/></clipPath><g transform="translate(478.20,757.65)" clip-path="url(#f26)">
<rect x="-7" y="-6.40" width="14" height="2.66" fill="#1d3a7a"/>
<rect x="-7" y="-3.84" width="14" height="2.66" fill="#1d3a7a"/>
<rect x="-7" y="-1.28" width="14" height="2.66" fill="#2e8a3c"/>
<rect x="-7" y="1.28" width="14" height="2.66" fill="#2e8a3c"/>
<rect x="-7" y="3.84" width="14" height="2.66" fill="#f4dc2a"/>
<rect x="-7" y="-1.6" width="14" height="0.7" fill="#fff"/>
<rect x="-7" y="1.3" width="14" height="0.7" fill="#fff"/>
</g>
<rect x="492.45" y="753.05" width="1.1" height="9" fill="#7a7a7a"/>
<text x="497.47" y="759.45" font-size="8.5" fill="#7d7d7d" font-family='"Liberation Sans",sans-serif' textLength="15.66" lengthAdjust="spacingAndGlyphs" stroke="#7d7d7d" stroke-width=".35">26º</text>
<rect x="526" y="749.45" width="0.73" height="14" fill="#9cc481"/>
<text x="533.53" y="760.25" font-size="8.5" fill="#446a44" font-weight="bold" font-family='"Liberation Sans",sans-serif' textLength="12.41" lengthAdjust="spacingAndGlyphs">6,4</text>
<text x="550.93" y="760.25" font-size="8.5" fill="#c09a2b" font-family='"Liberation Sans",sans-serif' textLength="19.96" lengthAdjust="spacingAndGlyphs">0,1%</text>
<text x="429.35" y="777.50" font-size="8.8" fill="#828282" font-weight="bold" font-family='"Liberation Sans",sans-serif' textLength="36.45" lengthAdjust="spacingAndGlyphs">Roraima</text>
<clipPath id="f27"><circle cx="0" cy="0" r="6.4"/></clipPath><g transform="translate(478.20,774.20)" clip-path="url(#f27)">
<rect x="-7" y="-7" width="14" height="14" fill="#fff"/>
<polygon points="-7,-7 3,-7 -7,2" fill="#2f8fd8"/>
<polygon points="7,7 -3,7 7,-2" fill="#2e8a3c"/>
<circle cx="0" cy="0.5" r="2.3" fill="#f4c43a"/>
</g>
<rect x="492.45" y="769.60" width="1.1" height="9" fill="#7a7a7a"/>
<text x="497.47" y="776.00" font-size="8.5" fill="#7d7d7d" font-family='"Liberation Sans",sans-serif' textLength="15.66" lengthAdjust="spacingAndGlyphs" stroke="#7d7d7d" stroke-width=".35">27º</text>
<rect x="526" y="766.00" width="0.32" height="14" fill="#9cc481"/>
<text x="533.12" y="776.80" font-size="8.5" fill="#446a44" font-weight="bold" font-family='"Liberation Sans",sans-serif' textLength="12.41" lengthAdjust="spacingAndGlyphs">2,8</text>
<text x="550.52" y="776.80" font-size="8.5" fill="#c09a2b" font-family='"Liberation Sans",sans-serif' textLength="19.96" lengthAdjust="spacingAndGlyphs">0,1%</text>
<text x="388.94" y="805.40" font-size="14.6" fill="#1a7340" font-weight="bold" font-family='"Liberation Sans",sans-serif' textLength="131.09" lengthAdjust="spacingAndGlyphs">Ranking Municipal</text>
<rect x="388" y="810.5" width="302" height="1.3" fill="#2a8a5a"/>
<text x="590.00" y="807.40" font-size="6.5" fill="#8a8a8a" font-family='"Liberation Sans",sans-serif' textLength="98.00" lengthAdjust="spacingAndGlyphs">Fonte: ANEEL/ABSOLAR, 2021.</text>
<text x="520.00" y="828.60" font-size="10.6" fill="#3f7d3a" font-family='"Liberation Sans",sans-serif' textLength="113.50" lengthAdjust="spacingAndGlyphs">Potência Instalada (MW)</text>
<text x="647.00" y="828.60" font-size="10.6" fill="#c09a2b" font-weight="bold" font-family='"Liberation Sans",sans-serif' textLength="15.50" lengthAdjust="spacingAndGlyphs">(%)</text>
<rect x="524.4" y="835.70" width="1" height="155.97" fill="#dadada"/>
<text x="415.34" y="848.30" font-size="8.8" fill="#828282" font-weight="bold" font-family='"Liberation Sans",sans-serif' textLength="52.86" lengthAdjust="spacingAndGlyphs">Cuiabá - MT</text>
<clipPath id="f28"><circle cx="0" cy="0" r="6.4"/></clipPath><g transform="translate(480.60,845.00)" clip-path="url(#f28)">
<rect x="-7" y="-7" width="14" height="14" fill="#fff"/>
<rect x="-7" y="-7" width="5.5" height="14" fill="#2e9a4c"/>
<circle cx="-1" cy="0" r="1.6" fill="#2e9a4c"/>
</g>
<rect x="491.75" y="840.40" width="1.1" height="9" fill="#7a7a7a"/>
<circle cx="508.5" cy="845.0" r="6.7" fill="#f6b41a"/>
<circle cx="508.50" cy="838.80" r="1.15" fill="#f6b41a"/>
<circle cx="511.60" cy="839.63" r="1.15" fill="#f6b41a"/>
<circle cx="513.87" cy="841.90" r="1.15" fill="#f6b41a"/>
<circle cx="514.70" cy="845.00" r="1.15" fill="#f6b41a"/>
<circle cx="513.87" cy="848.10" r="1.15" fill="#f6b41a"/>
<circle cx="511.60" cy="850.37" r="1.15" fill="#f6b41a"/>
<circle cx="508.50" cy="851.20" r="1.15" fill="#f6b41a"/>
<circle cx="505.40" cy="850.37" r="1.15" fill="#f6b41a"/>
<circle cx="503.13" cy="848.10" r="1.15" fill="#f6b41a"/>
<circle cx="502.30" cy="845.00" r="1.15" fill="#f6b41a"/>
<circle cx="503.13" cy="841.90" r="1.15" fill="#f6b41a"/>
<circle cx="505.40" cy="839.63" r="1.15" fill="#f6b41a"/>
<circle cx="508.5" cy="845.0" r="4.6" fill="#fbd24a"/>
<rect x="507.8" y="842.4" width="1.4" height="5.2" rx=".5" fill="#e89a12"/>
<rect x="525.4" y="837.20" width="118.78" height="13.2" fill="#9cc481"/>
<text x="650.98" y="847.60" font-size="8.5" fill="#446a44" font-weight="bold" font-family='"Liberation Sans",sans-serif' textLength="17.37" lengthAdjust="spacingAndGlyphs">58,8</text>
<text x="673.35" y="847.60" font-size="8.5" fill="#c09a2b" font-family='"Liberation Sans",sans-serif' textLength="19.96" lengthAdjust="spacingAndGlyphs">1,3%</text>
<text x="394.60" y="863.83" font-size="8.8" fill="#828282" font-weight="bold" font-family='"Liberation Sans",sans-serif' textLength="73.60" lengthAdjust="spacingAndGlyphs">Uberlândia – MG</text>
<clipPath id="f29"><circle cx="0" cy="0" r="6.4"/></clipPath><g transform="translate(480.60,860.53)" clip-path="url(#f29)">
<rect x="-7" y="-7" width="14" height="14" fill="#2b6ab8"/>
<circle cx="0" cy="0.5" r="3" fill="#dfeef8"/>
<circle cx="0" cy="2" r="2" fill="#3a9a4a"/>
</g>
<rect x="491.75" y="855.93" width="1.1" height="9" fill="#7a7a7a"/>
<circle cx="508.5" cy="860.53" r="6.7" fill="#8a8a8a"/>
<circle cx="508.50" cy="854.33" r="1.15" fill="#8a8a8a"/>
<circle cx="511.60" cy="855.16" r="1.15" fill="#8a8a8a"/>
<circle cx="513.87" cy="857.43" r="1.15" fill="#8a8a8a"/>
<circle cx="514.70" cy="860.53" r="1.15" fill="#8a8a8a"/>
<circle cx="513.87" cy="863.63" r="1.15" fill="#8a8a8a"/>
<circle cx="511.60" cy="865.90" r="1.15" fill="#8a8a8a"/>
<circle cx="508.50" cy="866.73" r="1.15" fill="#8a8a8a"/>
<circle cx="505.40" cy="865.90" r="1.15" fill="#8a8a8a"/>
<circle cx="503.13" cy="863.63" r="1.15" fill="#8a8a8a"/>
<circle cx="502.30" cy="860.53" r="1.15" fill="#8a8a8a"/>
<circle cx="503.13" cy="857.43" r="1.15" fill="#8a8a8a"/>
<circle cx="505.40" cy="855.16" r="1.15" fill="#8a8a8a"/>
<circle cx="508.5" cy="860.53" r="4.6" fill="#bdbdbd"/>
<rect x="507.8" y="857.93" width="1.4" height="5.2" rx=".5" fill="#6a6a6a"/>
<rect x="525.4" y="852.73" width="105.24" height="13.2" fill="#9cc481"/>
<text x="637.44" y="863.13" font-size="8.5" fill="#446a44" font-weight="bold" font-family='"Liberation Sans",sans-serif' textLength="17.37" lengthAdjust="spacingAndGlyphs">52,1</text>
<text x="659.81" y="863.13" font-size="8.5" fill="#c09a2b" font-family='"Liberation Sans",sans-serif' textLength="19.96" lengthAdjust="spacingAndGlyphs">1,1%</text>
<text x="381.63" y="879.36" font-size="8.8" fill="#828282" font-weight="bold" font-family='"Liberation Sans",sans-serif' textLength="86.57" lengthAdjust="spacingAndGlyphs">Rio de Janeiro – RJ</text>
<clipPath id="f30"><circle cx="0" cy="0" r="6.4"/></clipPath><g transform="translate(480.60,876.06)" clip-path="url(#f30)">
<rect x="-7" y="-7" width="14" height="14" fill="#fff"/>
<line x1="-8" y1="8" x2="8" y2="-8" stroke="#2b4aa8" stroke-width="1.6"/>
<line x1="-8" y1="-8" x2="8" y2="8" stroke="#2b4aa8" stroke-width="1.6"/>
<circle cx="0" cy="0" r="2.6" fill="#c8262c"/>
</g>
<rect x="491.75" y="871.46" width="1.1" height="9" fill="#7a7a7a"/>
<circle cx="508.5" cy="876.06" r="6.7" fill="#c43a1c"/>
<circle cx="508.50" cy="869.86" r="1.15" fill="#c43a1c"/>
<circle cx="511.60" cy="870.69" r="1.15" fill="#c43a1c"/>
<circle cx="513.87" cy="872.96" r="1.15" fill="#c43a1c"/>
<circle cx="514.70" cy="876.06" r="1.15" fill="#c43a1c"/>
<circle cx="513.87" cy="879.16" r="1.15" fill="#c43a1c"/>
<circle cx="511.60" cy="881.43" r="1.15" fill="#c43a1c"/>
<circle cx="508.50" cy="882.26" r="1.15" fill="#c43a1c"/>
<circle cx="505.40" cy="881.43" r="1.15" fill="#c43a1c"/>
<circle cx="503.13" cy="879.16" r="1.15" fill="#c43a1c"/>
<circle cx="502.30" cy="876.06" r="1.15" fill="#c43a1c"/>
<circle cx="503.13" cy="872.96" r="1.15" fill="#c43a1c"/>
<circle cx="505.40" cy="870.69" r="1.15" fill="#c43a1c"/>
<circle cx="508.5" cy="876.06" r="4.6" fill="#d8582a"/>
<rect x="507.8" y="873.4599999999999" width="1.4" height="5.2" rx=".5" fill="#a82a12"/>
<rect x="525.4" y="868.26" width="97.77" height="13.2" fill="#9cc481"/>
<text x="629.97" y="878.66" font-size="8.5" fill="#446a44" font-weight="bold" font-family='"Liberation Sans",sans-serif' textLength="17.37" lengthAdjust="spacingAndGlyphs">48,4</text>
<text x="652.34" y="878.66" font-size="8.5" fill="#c09a2b" font-family='"Liberation Sans",sans-serif' textLength="19.96" lengthAdjust="spacingAndGlyphs">1,0%</text>
<text x="411.34" y="894.89" font-size="8.8" fill="#828282" font-weight="bold" font-family='"Liberation Sans",sans-serif' textLength="56.86" lengthAdjust="spacingAndGlyphs">Teresina – PI</text>
<clipPath id="f31"><circle cx="0" cy="0" r="6.4"/></clipPath><g transform="translate(480.60,891.59)" clip-path="url(#f31)">
<rect x="-7" y="-7" width="14" height="14" fill="#2b4aa8"/>
<rect x="-2.2" y="-7" width="4.4" height="14" fill="#fff"/>
<circle cx="0" cy="0" r="1.6" fill="#c8a23a"/>
</g>
<rect x="491.75" y="886.99" width="1.1" height="9" fill="#7a7a7a"/>
<text x="501.58" y="893.39" font-size="8.5" fill="#7d7d7d" font-family='"Liberation Sans",sans-serif' textLength="10.35" lengthAdjust="spacingAndGlyphs" stroke="#7d7d7d" stroke-width=".35">4º</text>
<rect x="525.4" y="883.79" width="89.89" height="13.2" fill="#9cc481"/>
<text x="622.09" y="894.19" font-size="8.5" fill="#446a44" font-weight="bold" font-family='"Liberation Sans",sans-serif' textLength="17.37" lengthAdjust="spacingAndGlyphs">44,5</text>
<text x="644.46" y="894.19" font-size="8.5" fill="#c09a2b" font-family='"Liberation Sans",sans-serif' textLength="19.96" lengthAdjust="spacingAndGlyphs">1,0%</text>
<text x="403.92" y="910.42" font-size="8.8" fill="#828282" font-weight="bold" font-family='"Liberation Sans",sans-serif' textLength="64.28" lengthAdjust="spacingAndGlyphs">Fortaleza – CE</text>
<clipPath id="f32"><circle cx="0" cy="0" r="6.4"/></clipPath><g transform="translate(480.60,907.12)" clip-path="url(#f32)">
<rect x="-7" y="-7" width="14" height="14" fill="#fff"/>
<line x1="-8" y1="8" x2="8" y2="-8" stroke="#2b5ab8" stroke-width="1.8"/>
<line x1="-8" y1="-8" x2="8" y2="8" stroke="#2b5ab8" stroke-width="1.8"/>
<circle cx="0" cy="0" r="1.8" fill="#3a9a4a"/>
</g>
<rect x="491.75" y="902.52" width="1.1" height="9" fill="#7a7a7a"/>
<text x="501.34" y="908.92" font-size="8.5" fill="#7d7d7d" font-family='"Liberation Sans",sans-serif' textLength="10.59" lengthAdjust="spacingAndGlyphs" stroke="#7d7d7d" stroke-width=".35">5º</text>
<rect x="525.4" y="899.32" width="83.83" height="13.2" fill="#9cc481"/>
<text x="616.03" y="909.72" font-size="8.5" fill="#446a44" font-weight="bold" font-family='"Liberation Sans",sans-serif' textLength="17.37" lengthAdjust="spacingAndGlyphs">41,5</text>
<text x="638.40" y="909.72" font-size="8.5" fill="#c09a2b" font-family='"Liberation Sans",sans-serif' textLength="19.96" lengthAdjust="spacingAndGlyphs">0,9%</text>
<text x="413.77" y="925.95" font-size="8.8" fill="#828282" font-weight="bold" font-family='"Liberation Sans",sans-serif' textLength="54.43" lengthAdjust="spacingAndGlyphs">Brasília - DF</text>
<clipPath id="f33"><circle cx="0" cy="0" r="6.4"/></clipPath><g transform="translate(480.60,922.65)" clip-path="url(#f33)">
<rect x="-7" y="-7" width="14" height="14" fill="#2e9a3c"/>
<polygon points="0,-4 4,0 0,4 -4,0" fill="#f4dc2a"/>
</g>
<rect x="491.75" y="918.05" width="1.1" height="9" fill="#7a7a7a"/>
<text x="501.22" y="924.45" font-size="8.5" fill="#7d7d7d" font-family='"Liberation Sans",sans-serif' textLength="10.71" lengthAdjust="spacingAndGlyphs" stroke="#7d7d7d" stroke-width=".35">6º</text>
<rect x="525.4" y="914.85" width="78.78" height="13.2" fill="#9cc481"/>
<text x="610.98" y="925.25" font-size="8.5" fill="#446a44" font-weight="bold" font-family='"Liberation Sans",sans-serif' textLength="17.37" lengthAdjust="spacingAndGlyphs">39,0</text>
<text x="633.35" y="925.25" font-size="8.5" fill="#c09a2b" font-family='"Liberation Sans",sans-serif' textLength="19.96" lengthAdjust="spacingAndGlyphs">0,8%</text>
<text x="409.11" y="941.48" font-size="8.8" fill="#828282" font-weight="bold" font-family='"Liberation Sans",sans-serif' textLength="59.09" lengthAdjust="spacingAndGlyphs">Goiânia – GO</text>
<clipPath id="f34"><circle cx="0" cy="0" r="6.4"/></clipPath><g transform="translate(480.60,938.18)" clip-path="url(#f34)">
<rect x="-7" y="-7" width="14" height="14" fill="#2e9a4c"/>
<rect x="-3.4" y="-3.4" width="6.8" height="6.8" fill="#fff"/>
<rect x="-1.8" y="-1.8" width="3.6" height="3.6" fill="#6aa84a"/>
</g>
<rect x="491.75" y="933.58" width="1.1" height="9" fill="#7a7a7a"/>
<text x="501.22" y="939.98" font-size="8.5" fill="#7d7d7d" font-family='"Liberation Sans",sans-serif' textLength="10.71" lengthAdjust="spacingAndGlyphs" stroke="#7d7d7d" stroke-width=".35">7º</text>
<rect x="525.4" y="930.38" width="76.96" height="13.2" fill="#9cc481"/>
<text x="609.16" y="940.78" font-size="8.5" fill="#446a44" font-weight="bold" font-family='"Liberation Sans",sans-serif' textLength="17.37" lengthAdjust="spacingAndGlyphs">38,1</text>
<text x="631.53" y="940.78" font-size="8.5" fill="#c09a2b" font-family='"Liberation Sans",sans-serif' textLength="19.96" lengthAdjust="spacingAndGlyphs">0,8%</text>
<text x="376.97" y="957.01" font-size="8.8" fill="#828282" font-weight="bold" font-family='"Liberation Sans",sans-serif' textLength="91.23" lengthAdjust="spacingAndGlyphs">Campo Grande – MS</text>
<clipPath id="f35"><circle cx="0" cy="0" r="6.4"/></clipPath><g transform="translate(480.60,953.71)" clip-path="url(#f35)">
<rect x="-7" y="-7" width="14" height="14" fill="#2b5ab8"/>
<rect x="-1.6" y="-7" width="3.2" height="14" fill="#f4c43a"/>
<rect x="-7" y="-1.6" width="14" height="3.2" fill="#f4c43a"/>
<circle cx="0" cy="0" r="2.4" fill="#6a8a4a"/>
</g>
<rect x="491.75" y="949.11" width="1.1" height="9" fill="#7a7a7a"/>
<text x="501.34" y="955.51" font-size="8.5" fill="#7d7d7d" font-family='"Liberation Sans",sans-serif' textLength="10.59" lengthAdjust="spacingAndGlyphs" stroke="#7d7d7d" stroke-width=".35">8º</text>
<rect x="525.4" y="945.91" width="64.03" height="13.2" fill="#9cc481"/>
<text x="596.23" y="956.31" font-size="8.5" fill="#446a44" font-weight="bold" font-family='"Liberation Sans",sans-serif' textLength="17.37" lengthAdjust="spacingAndGlyphs">31,7</text>
<text x="618.60" y="956.31" font-size="8.5" fill="#c09a2b" font-family='"Liberation Sans",sans-serif' textLength="19.96" lengthAdjust="spacingAndGlyphs">0,7%</text>
<text x="379.07" y="972.54" font-size="8.8" fill="#828282" font-weight="bold" font-family='"Liberation Sans",sans-serif' textLength="89.13" lengthAdjust="spacingAndGlyphs">Belo Horizonte - MG</text>
<clipPath id="f36"><circle cx="0" cy="0" r="6.4"/></clipPath><g transform="translate(480.60,969.24)" clip-path="url(#f36)">
<rect x="-7" y="-7" width="14" height="14" fill="#f3f3f3"/>
<rect x="-1.8" y="-1" width="3.6" height="5" fill="#8a9a3a"/>
<circle cx="0" cy="-2.5" r="1.4" fill="#d8b43a"/>
</g>
<rect x="491.75" y="964.64" width="1.1" height="9" fill="#7a7a7a"/>
<text x="501.28" y="971.04" font-size="8.5" fill="#7d7d7d" font-family='"Liberation Sans",sans-serif' textLength="10.65" lengthAdjust="spacingAndGlyphs" stroke="#7d7d7d" stroke-width=".35">9º</text>
<rect x="525.4" y="961.44" width="59.19" height="13.2" fill="#9cc481"/>
<text x="591.39" y="971.84" font-size="8.5" fill="#446a44" font-weight="bold" font-family='"Liberation Sans",sans-serif' textLength="17.37" lengthAdjust="spacingAndGlyphs">29,3</text>
<text x="613.76" y="971.84" font-size="8.5" fill="#c09a2b" font-family='"Liberation Sans",sans-serif' textLength="19.96" lengthAdjust="spacingAndGlyphs">0,6%</text>
<text x="405.47" y="988.07" font-size="8.8" fill="#828282" font-weight="bold" font-family='"Liberation Sans",sans-serif' textLength="62.73" lengthAdjust="spacingAndGlyphs">Petrolina – PE</text>
<clipPath id="f37"><circle cx="0" cy="0" r="6.4"/></clipPath><g transform="translate(480.60,984.77)" clip-path="url(#f37)">
<rect x="-6.40" y="-7" width="4.37" height="14" fill="#2e9a3c"/>
<rect x="-2.13" y="-7" width="4.37" height="14" fill="#f4dc2a"/>
<rect x="2.13" y="-7" width="4.37" height="14" fill="#d8262c"/>
<rect x="-4.6" y="-7" width="1.3" height="14" fill="#f4dc2a"/>
<rect x="3.3" y="-7" width="1.3" height="14" fill="#f4dc2a"/>
</g>
<rect x="491.75" y="980.17" width="1.1" height="9" fill="#7a7a7a"/>
<text x="495.99" y="986.57" font-size="8.5" fill="#7d7d7d" font-family='"Liberation Sans",sans-serif' textLength="15.95" lengthAdjust="spacingAndGlyphs" stroke="#7d7d7d" stroke-width=".35">10º</text>
<rect x="525.4" y="976.97" width="51.91" height="13.2" fill="#9cc481"/>
<text x="584.11" y="987.37" font-size="8.5" fill="#446a44" font-weight="bold" font-family='"Liberation Sans",sans-serif' textLength="17.37" lengthAdjust="spacingAndGlyphs">25,7</text>
<text x="606.48" y="987.37" font-size="8.5" fill="#c09a2b" font-family='"Liberation Sans",sans-serif' textLength="19.96" lengthAdjust="spacingAndGlyphs">0,6%</text>
</g>
</svg>
</body></html>
